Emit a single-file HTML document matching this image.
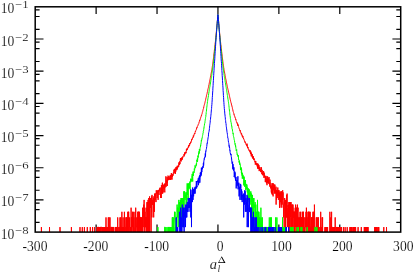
<!DOCTYPE html>
<html><head><meta charset="utf-8"><title>plot</title>
<style>
html,body{margin:0;padding:0;background:#fff;}
body{width:415px;height:274px;overflow:hidden;font-family:"Liberation Serif",serif;}
svg{display:block}
text{font-family:"Liberation Serif",serif;fill:#000}
</style></head><body>
<svg width="415" height="274" viewBox="0 0 415 274">
<rect width="415" height="274" fill="#fff"/>
<defs><filter id="g" filterUnits="userSpaceOnUse" x="0" y="0" width="415" height="274"><feOffset dx="0" dy="0"/></filter><clipPath id="c"><rect x="35.2" y="6.8" width="365.5" height="225.29999999999998"/></clipPath></defs>
<g fill="none" stroke="#000" stroke-width="1.2">
<path d="M35.2 9.92h4.4M400.7 9.92h-4.4"/>
<path d="M35.2 16.49h4.4M400.7 16.49h-4.4"/>
<path d="M35.2 29.30h4.4M400.7 29.30h-4.4"/>
<path d="M35.2 38.99h8.3M400.7 38.99h-8.3"/>
<path d="M35.2 42.10h4.4M400.7 42.10h-4.4"/>
<path d="M35.2 48.67h4.4M400.7 48.67h-4.4"/>
<path d="M35.2 61.48h4.4M400.7 61.48h-4.4"/>
<path d="M35.2 71.17h8.3M400.7 71.17h-8.3"/>
<path d="M35.2 74.29h4.4M400.7 74.29h-4.4"/>
<path d="M35.2 80.86h4.4M400.7 80.86h-4.4"/>
<path d="M35.2 93.67h4.4M400.7 93.67h-4.4"/>
<path d="M35.2 103.36h8.3M400.7 103.36h-8.3"/>
<path d="M35.2 106.48h4.4M400.7 106.48h-4.4"/>
<path d="M35.2 113.05h4.4M400.7 113.05h-4.4"/>
<path d="M35.2 125.85h4.4M400.7 125.85h-4.4"/>
<path d="M35.2 135.54h8.3M400.7 135.54h-8.3"/>
<path d="M35.2 138.66h4.4M400.7 138.66h-4.4"/>
<path d="M35.2 145.23h4.4M400.7 145.23h-4.4"/>
<path d="M35.2 158.04h4.4M400.7 158.04h-4.4"/>
<path d="M35.2 167.73h8.3M400.7 167.73h-8.3"/>
<path d="M35.2 170.85h4.4M400.7 170.85h-4.4"/>
<path d="M35.2 177.42h4.4M400.7 177.42h-4.4"/>
<path d="M35.2 190.23h4.4M400.7 190.23h-4.4"/>
<path d="M35.2 199.91h8.3M400.7 199.91h-8.3"/>
<path d="M35.2 203.03h4.4M400.7 203.03h-4.4"/>
<path d="M35.2 209.60h4.4M400.7 209.60h-4.4"/>
<path d="M35.2 222.41h4.4M400.7 222.41h-4.4"/>
<path d="M96.12 6.8v7.2M96.12 232.1v-7.6"/>
<path d="M157.03 6.8v7.2M157.03 232.1v-7.6"/>
<path d="M217.95 6.8v7.2M217.95 232.1v-7.6"/>
<path d="M278.87 6.8v7.2M278.87 232.1v-7.6"/>
<path d="M339.78 6.8v7.2M339.78 232.1v-7.6"/>
</g>
<g clip-path="url(#c)" fill="none" stroke-width="1" stroke-linejoin="round">
<polyline stroke="#f00" points="35.2,238.1 35.4,238.1 35.5,238.1 35.7,238.1 35.8,238.1 36.0,238.1 36.1,238.1 36.3,238.1 36.4,238.1 36.6,238.1 36.7,238.1 36.9,238.1 37.0,238.1 37.2,238.1 37.3,238.1 37.5,238.1 37.6,238.1 37.8,238.1 37.9,238.1 38.1,238.1 38.2,238.1 38.4,238.1 38.6,238.1 38.7,238.1 38.9,238.1 39.0,238.1 39.2,238.1 39.3,238.1 39.5,238.1 39.6,238.1 39.8,238.1 39.9,238.1 40.1,238.1 40.2,238.1 40.4,238.1 40.5,238.1 40.7,238.1 40.8,238.1 41.0,238.1 41.1,238.1 41.3,238.1 41.4,227.1 41.6,238.1 41.7,238.1 41.9,238.1 42.1,238.1 42.2,238.1 42.4,238.1 42.5,238.1 42.7,238.1 42.8,238.1 43.0,238.1 43.1,238.1 43.3,238.1 43.4,238.1 43.6,238.1 43.7,238.1 43.9,238.1 44.0,238.1 44.2,238.1 44.3,238.1 44.5,238.1 44.6,238.1 44.8,238.1 44.9,238.1 45.1,238.1 45.3,238.1 45.4,238.1 45.6,238.1 45.7,238.1 45.9,238.1 46.0,238.1 46.2,238.1 46.3,238.1 46.5,238.1 46.6,238.1 46.8,238.1 46.9,238.1 47.1,238.1 47.2,238.1 47.4,238.1 47.5,238.1 47.7,238.1 47.8,238.1 48.0,238.1 48.1,238.1 48.3,238.1 48.4,238.1 48.6,238.1 48.8,238.1 48.9,238.1 49.1,238.1 49.2,238.1 49.4,238.1 49.5,227.1 49.7,238.1 49.8,238.1 50.0,238.1 50.1,238.1 50.3,238.1 50.4,238.1 50.6,238.1 50.7,238.1 50.9,238.1 51.0,238.1 51.2,238.1 51.3,238.1 51.5,238.1 51.6,238.1 51.8,238.1 52.0,238.1 52.1,238.1 52.3,238.1 52.4,238.1 52.6,238.1 52.7,238.1 52.9,238.1 53.0,238.1 53.2,238.1 53.3,238.1 53.5,238.1 53.6,238.1 53.8,238.1 53.9,238.1 54.1,238.1 54.2,238.1 54.4,238.1 54.5,238.1 54.7,238.1 54.8,238.1 55.0,238.1 55.2,238.1 55.3,238.1 55.5,238.1 55.6,238.1 55.8,238.1 55.9,238.1 56.1,238.1 56.2,238.1 56.4,238.1 56.5,238.1 56.7,238.1 56.8,238.1 57.0,238.1 57.1,238.1 57.3,238.1 57.4,238.1 57.6,238.1 57.7,238.1 57.9,238.1 58.0,238.1 58.2,238.1 58.3,238.1 58.5,238.1 58.7,238.1 58.8,238.1 59.0,238.1 59.1,238.1 59.3,238.1 59.4,238.1 59.6,238.1 59.7,238.1 59.9,238.1 60.0,227.1 60.2,238.1 60.3,238.1 60.5,238.1 60.6,238.1 60.8,238.1 60.9,238.1 61.1,238.1 61.2,238.1 61.4,238.1 61.5,238.1 61.7,238.1 61.9,238.1 62.0,238.1 62.2,238.1 62.3,238.1 62.5,238.1 62.6,238.1 62.8,238.1 62.9,238.1 63.1,238.1 63.2,238.1 63.4,238.1 63.5,238.1 63.7,238.1 63.8,238.1 64.0,238.1 64.1,238.1 64.3,238.1 64.4,238.1 64.6,238.1 64.7,238.1 64.9,238.1 65.0,238.1 65.2,238.1 65.4,238.1 65.5,238.1 65.7,238.1 65.8,238.1 66.0,238.1 66.1,238.1 66.3,238.1 66.4,238.1 66.6,238.1 66.7,238.1 66.9,238.1 67.0,238.1 67.2,238.1 67.3,238.1 67.5,238.1 67.6,238.1 67.8,238.1 67.9,238.1 68.1,238.1 68.2,238.1 68.4,238.1 68.6,238.1 68.7,238.1 68.9,238.1 69.0,238.1 69.2,238.1 69.3,238.1 69.5,238.1 69.6,238.1 69.8,238.1 69.9,238.1 70.1,238.1 70.2,238.1 70.4,238.1 70.5,238.1 70.7,238.1 70.8,238.1 71.0,238.1 71.1,238.1 71.3,238.1 71.4,227.1 71.6,238.1 71.8,238.1 71.9,238.1 72.1,238.1 72.2,238.1 72.4,238.1 72.5,238.1 72.7,238.1 72.8,238.1 73.0,238.1 73.1,238.1 73.3,238.1 73.4,238.1 73.6,238.1 73.7,238.1 73.9,238.1 74.0,238.1 74.2,238.1 74.3,238.1 74.5,238.1 74.6,238.1 74.8,238.1 74.9,238.1 75.1,238.1 75.3,238.1 75.4,238.1 75.6,238.1 75.7,238.1 75.9,238.1 76.0,238.1 76.2,238.1 76.3,238.1 76.5,238.1 76.6,238.1 76.8,238.1 76.9,238.1 77.1,238.1 77.2,238.1 77.4,238.1 77.5,238.1 77.7,238.1 77.8,238.1 78.0,238.1 78.1,238.1 78.3,238.1 78.5,238.1 78.6,238.1 78.8,238.1 78.9,238.1 79.1,238.1 79.2,238.1 79.4,238.1 79.5,238.1 79.7,238.1 79.8,238.1 80.0,227.1 80.1,238.1 80.3,238.1 80.4,238.1 80.6,238.1 80.7,238.1 80.9,238.1 81.0,238.1 81.2,238.1 81.3,238.1 81.5,238.1 81.6,238.1 81.8,238.1 82.0,238.1 82.1,238.1 82.3,227.1 82.4,238.1 82.6,238.1 82.7,238.1 82.9,238.1 83.0,238.1 83.2,238.1 83.3,238.1 83.5,238.1 83.6,238.1 83.8,238.1 83.9,238.1 84.1,238.1 84.2,238.1 84.4,227.1 84.5,238.1 84.7,238.1 84.8,238.1 85.0,238.1 85.2,238.1 85.3,238.1 85.5,238.1 85.6,238.1 85.8,238.1 85.9,238.1 86.1,238.1 86.2,238.1 86.4,238.1 86.5,238.1 86.7,238.1 86.8,238.1 87.0,238.1 87.1,238.1 87.3,227.1 87.4,238.1 87.6,238.1 87.7,238.1 87.9,238.1 88.0,238.1 88.2,238.1 88.3,238.1 88.5,238.1 88.7,238.1 88.8,238.1 89.0,238.1 89.1,238.1 89.3,238.1 89.4,238.1 89.6,238.1 89.7,238.1 89.9,238.1 90.0,238.1 90.2,238.1 90.3,227.1 90.5,238.1 90.6,238.1 90.8,238.1 90.9,238.1 91.1,238.1 91.2,238.1 91.4,238.1 91.5,238.1 91.7,238.1 91.9,238.1 92.0,238.1 92.2,238.1 92.3,238.1 92.5,227.1 92.6,238.1 92.8,238.1 92.9,238.1 93.1,238.1 93.2,238.1 93.4,238.1 93.5,238.1 93.7,238.1 93.8,238.1 94.0,238.1 94.1,238.1 94.3,238.1 94.4,227.1 94.6,238.1 94.7,238.1 94.9,238.1 95.1,238.1 95.2,238.1 95.4,238.1 95.5,238.1 95.7,238.1 95.8,238.1 96.0,238.1 96.1,238.1 96.3,238.1 96.4,238.1 96.6,238.1 96.7,238.1 96.9,227.1 97.0,227.1 97.2,227.1 97.3,227.1 97.5,238.1 97.6,238.1 97.8,227.1 97.9,238.1 98.1,227.1 98.2,227.1 98.4,227.1 98.6,238.1 98.7,227.1 98.9,227.1 99.0,238.1 99.2,238.1 99.3,238.1 99.5,227.1 99.6,238.1 99.8,238.1 99.9,238.1 100.1,227.1 100.2,238.1 100.4,227.1 100.5,227.1 100.7,227.1 100.8,227.1 101.0,238.1 101.1,227.1 101.3,227.1 101.4,227.1 101.6,227.1 101.8,238.1 101.9,238.1 102.1,238.1 102.2,238.1 102.4,227.1 102.5,238.1 102.7,238.1 102.8,227.1 103.0,238.1 103.1,238.1 103.3,238.1 103.4,227.1 103.6,238.1 103.7,238.1 103.9,238.1 104.0,238.1 104.2,238.1 104.3,238.1 104.5,227.1 104.6,238.1 104.8,238.1 104.9,238.1 105.1,238.1 105.3,238.1 105.4,227.1 105.6,227.1 105.7,238.1 105.9,227.1 106.0,217.4 106.2,238.1 106.3,227.1 106.5,227.1 106.6,227.1 106.8,238.1 106.9,238.1 107.1,238.1 107.2,238.1 107.4,238.1 107.5,227.1 107.7,238.1 107.8,238.1 108.0,227.1 108.1,238.1 108.3,217.4 108.5,238.1 108.6,238.1 108.8,238.1 108.9,238.1 109.1,217.4 109.2,238.1 109.4,227.1 109.5,238.1 109.7,227.1 109.8,238.1 110.0,217.4 110.1,238.1 110.3,238.1 110.4,238.1 110.6,238.1 110.7,238.1 110.9,227.1 111.0,227.1 111.2,227.1 111.3,238.1 111.5,227.1 111.7,227.1 111.8,238.1 112.0,227.1 112.1,238.1 112.3,227.1 112.4,227.1 112.6,238.1 112.7,238.1 112.9,227.1 113.0,227.1 113.2,238.1 113.3,227.1 113.5,227.1 113.6,238.1 113.8,238.1 113.9,238.1 114.1,238.1 114.2,238.1 114.4,238.1 114.5,238.1 114.7,238.1 114.8,238.1 115.0,238.1 115.2,227.1 115.3,238.1 115.5,227.1 115.6,227.1 115.8,238.1 115.9,238.1 116.1,238.1 116.2,227.1 116.4,227.1 116.5,238.1 116.7,238.1 116.8,227.1 117.0,238.1 117.1,227.1 117.3,238.1 117.4,238.1 117.6,238.1 117.7,217.4 117.9,238.1 118.0,238.1 118.2,238.1 118.4,238.1 118.5,238.1 118.7,238.1 118.8,227.1 119.0,238.1 119.1,238.1 119.3,227.1 119.4,238.1 119.6,227.1 119.7,238.1 119.9,227.1 120.0,217.4 120.2,238.1 120.3,238.1 120.5,227.1 120.6,227.1 120.8,217.4 120.9,238.1 121.1,238.1 121.2,227.1 121.4,227.1 121.5,238.1 121.7,227.1 121.9,211.8 122.0,238.1 122.2,238.1 122.3,238.1 122.5,227.1 122.6,238.1 122.8,238.1 122.9,238.1 123.1,217.4 123.2,238.1 123.4,227.1 123.5,238.1 123.7,227.1 123.8,227.1 124.0,238.1 124.1,227.1 124.3,227.1 124.4,211.8 124.6,227.1 124.7,238.1 124.9,227.1 125.1,227.1 125.2,227.1 125.4,238.1 125.5,238.1 125.7,238.1 125.8,217.4 126.0,217.4 126.1,238.1 126.3,238.1 126.4,227.1 126.6,217.4 126.7,238.1 126.9,227.1 127.0,238.1 127.2,217.4 127.3,238.1 127.5,238.1 127.6,227.1 127.8,211.8 127.9,217.4 128.1,217.4 128.3,238.1 128.4,211.8 128.6,217.4 128.7,211.8 128.9,238.1 129.0,227.1 129.2,227.1 129.3,227.1 129.5,227.1 129.6,217.4 129.8,238.1 129.9,238.1 130.1,227.1 130.2,227.1 130.4,238.1 130.5,227.1 130.7,238.1 130.8,227.1 131.0,238.1 131.1,207.7 131.3,238.1 131.4,217.4 131.6,227.1 131.8,238.1 131.9,217.4 132.1,227.1 132.2,227.1 132.4,227.1 132.5,211.8 132.7,217.4 132.8,227.1 133.0,238.1 133.1,227.1 133.3,211.8 133.4,238.1 133.6,238.1 133.7,227.1 133.9,217.4 134.0,217.4 134.2,227.1 134.3,227.1 134.5,238.1 134.6,238.1 134.8,238.1 135.0,211.8 135.1,238.1 135.3,238.1 135.4,227.1 135.6,227.1 135.7,207.7 135.9,227.1 136.0,238.1 136.2,227.1 136.3,227.1 136.5,227.1 136.6,227.1 136.8,217.4 136.9,227.1 137.1,227.1 137.2,238.1 137.4,227.1 137.5,217.4 137.7,238.1 137.8,211.8 138.0,227.1 138.1,211.8 138.3,227.1 138.5,211.8 138.6,238.1 138.8,227.1 138.9,211.8 139.1,227.1 139.2,238.1 139.4,217.4 139.5,211.8 139.7,217.4 139.8,217.4 140.0,238.1 140.1,217.4 140.3,227.1 140.4,217.4 140.6,238.1 140.7,217.4 140.9,217.4 141.0,217.4 141.2,238.1 141.3,238.1 141.5,217.4 141.7,227.1 141.8,238.1 142.0,227.1 142.1,238.1 142.3,217.4 142.4,227.1 142.6,227.1 142.7,207.7 142.9,238.1 143.0,211.8 143.2,227.1 143.3,217.4 143.5,207.7 143.6,217.4 143.8,204.6 143.9,211.8 144.1,199.9 144.2,207.7 144.4,211.8 144.5,207.7 144.7,238.1 144.8,217.4 145.0,211.8 145.2,227.1 145.3,217.4 145.5,227.1 145.6,217.4 145.8,217.4 145.9,227.1 146.1,207.7 146.2,238.1 146.4,217.4 146.5,238.1 146.7,217.4 146.8,238.1 147.0,202.1 147.1,211.8 147.3,204.6 147.4,202.1 147.6,238.1 147.7,207.7 147.9,217.4 148.0,199.9 148.2,202.1 148.4,238.1 148.5,238.1 148.7,207.7 148.8,198.0 149.0,217.4 149.1,238.1 149.3,202.1 149.4,238.1 149.6,196.4 149.7,238.1 149.9,202.1 150.0,207.7 150.2,204.6 150.3,207.7 150.5,207.7 150.6,198.0 150.8,202.1 150.9,198.0 151.1,238.1 151.2,211.8 151.4,207.7 151.6,211.8 151.7,196.4 151.9,217.4 152.0,194.9 152.2,204.6 152.3,199.9 152.5,202.1 152.6,204.6 152.8,199.9 152.9,202.1 153.1,204.6 153.2,202.1 153.4,202.1 153.5,198.0 153.7,217.4 153.8,196.4 154.0,196.4 154.1,207.7 154.3,199.9 154.4,211.8 154.6,193.6 154.7,202.1 154.9,199.9 155.1,198.0 155.2,198.0 155.4,193.6 155.5,199.9 155.7,193.6 155.8,196.4 156.0,202.1 156.1,196.4 156.3,190.2 156.4,193.6 156.6,193.6 156.7,193.6 156.9,192.4 157.0,191.3 157.2,198.0 157.3,194.9 157.5,192.4 157.6,193.6 157.8,190.2 157.9,192.4 158.1,199.9 158.3,192.4 158.4,190.2 158.6,191.3 158.7,190.2 158.9,193.6 159.0,194.9 159.2,190.2 159.3,189.3 159.5,190.2 159.6,188.4 159.8,188.4 159.9,191.3 160.1,190.2 160.2,187.5 160.4,194.9 160.5,193.6 160.7,198.0 160.8,192.4 161.0,191.3 161.1,194.9 161.3,198.0 161.4,185.2 161.6,187.5 161.8,191.3 161.9,188.4 162.1,193.6 162.2,183.9 162.4,182.7 162.5,183.9 162.7,193.6 162.8,192.4 163.0,187.5 163.1,192.4 163.3,188.4 163.4,186.0 163.6,185.2 163.7,186.0 163.9,188.4 164.0,184.6 164.2,188.4 164.3,183.9 164.5,186.7 164.6,190.2 164.8,192.4 165.0,183.3 165.1,187.5 165.3,184.6 165.4,185.2 165.6,185.2 165.7,183.9 165.9,176.3 166.0,186.7 166.2,186.7 166.3,181.0 166.5,180.5 166.6,183.3 166.8,182.1 166.9,181.6 167.1,177.0 167.2,186.0 167.4,183.3 167.5,181.0 167.7,178.7 167.8,180.5 168.0,175.6 168.2,176.3 168.3,179.6 168.5,180.0 168.6,179.1 168.8,176.3 168.9,177.8 169.1,180.0 169.2,179.6 169.4,178.7 169.5,178.7 169.7,179.1 169.8,177.0 170.0,176.3 170.1,179.6 170.3,174.9 170.4,180.0 170.6,175.9 170.7,176.3 170.9,179.6 171.0,177.8 171.2,179.1 171.3,173.0 171.5,173.9 171.7,176.3 171.8,174.9 172.0,179.6 172.1,174.2 172.3,175.2 172.4,177.0 172.6,175.2 172.7,175.6 172.9,174.2 173.0,175.6 173.2,173.0 173.3,172.7 173.5,173.3 173.6,173.6 173.8,171.9 173.9,169.7 174.1,171.1 174.2,172.7 174.4,172.2 174.5,168.8 174.7,171.6 174.9,169.2 175.0,173.3 175.2,170.8 175.3,173.9 175.5,168.6 175.6,169.7 175.8,171.6 175.9,171.4 176.1,167.0 176.2,169.7 176.4,166.8 176.5,169.4 176.7,168.6 176.8,170.1 177.0,168.8 177.1,169.2 177.3,165.7 177.4,168.6 177.6,167.0 177.7,167.7 177.9,166.0 178.0,166.4 178.2,167.1 178.4,166.2 178.5,165.3 178.7,166.6 178.8,166.4 179.0,162.3 179.1,164.9 179.3,162.9 179.4,164.9 179.6,161.4 179.7,161.7 179.9,163.8 180.0,164.1 180.2,161.5 180.3,159.4 180.5,158.0 180.6,160.8 180.8,160.3 180.9,160.0 181.1,160.7 181.2,161.4 181.4,160.4 181.6,157.5 181.7,159.0 181.9,160.0 182.0,159.3 182.2,159.5 182.3,159.6 182.5,159.1 182.6,157.0 182.8,157.5 182.9,156.1 183.1,156.1 183.2,156.5 183.4,156.3 183.5,155.7 183.7,155.5 183.8,155.2 184.0,154.2 184.1,155.2 184.3,156.3 184.4,155.5 184.6,152.8 184.8,154.5 184.9,154.4 185.1,152.0 185.2,152.7 185.4,153.0 185.5,151.8 185.7,153.4 185.8,152.4 186.0,153.1 186.1,153.0 186.3,151.7 186.4,149.2 186.6,150.8 186.7,150.2 186.9,149.4 187.0,148.5 187.2,150.0 187.3,148.5 187.5,148.9 187.6,148.4 187.8,148.5 187.9,147.7 188.1,147.1 188.3,147.4 188.4,146.3 188.6,147.3 188.7,145.2 188.9,145.5 189.0,144.9 189.2,146.1 189.3,146.2 189.5,146.0 189.6,145.3 189.8,143.2 189.9,144.2 190.1,143.2 190.2,143.2 190.4,143.3 190.5,143.2 190.7,141.9 190.8,142.7 191.0,142.2 191.1,141.4 191.3,141.6 191.5,141.1 191.6,139.6 191.8,139.2 191.9,140.0 192.1,138.9 192.2,138.7 192.4,138.9 192.5,137.9 192.7,137.6 192.8,137.2 193.0,137.5 193.1,137.7 193.3,135.7 193.4,135.9 193.6,136.6 193.7,135.3 193.9,135.5 194.0,135.4 194.2,133.9 194.3,133.6 194.5,133.6 194.6,133.2 194.8,134.0 195.0,132.8 195.1,132.5 195.3,131.5 195.4,132.0 195.6,131.3 195.7,130.8 195.9,130.2 196.0,129.9 196.2,129.7 196.3,129.7 196.5,128.4 196.6,128.8 196.8,127.5 196.9,127.5 197.1,127.9 197.2,127.2 197.4,126.5 197.5,126.2 197.7,126.0 197.8,126.0 198.0,125.2 198.2,124.4 198.3,124.5 198.5,124.3 198.6,123.9 198.8,123.5 198.9,122.6 199.1,122.6 199.2,122.0 199.4,121.3 199.5,121.2 199.7,120.1 199.8,120.5 200.0,119.6 200.1,119.1 200.3,119.2 200.4,118.6 200.6,117.7 200.7,117.4 200.9,117.4 201.0,116.9 201.2,116.3 201.4,115.5 201.5,115.8 201.7,114.9 201.8,114.3 202.0,113.9 202.1,113.6 202.3,112.5 202.4,112.4 202.6,112.0 202.7,111.5 202.9,110.5 203.0,109.8 203.2,109.3 203.3,108.8 203.5,108.6 203.6,108.1 203.8,106.9 203.9,106.4 204.1,105.7 204.2,105.2 204.4,104.6 204.5,104.0 204.7,103.6 204.9,102.9 205.0,102.2 205.2,101.4 205.3,100.8 205.5,100.4 205.6,99.7 205.8,98.9 205.9,98.1 206.1,97.6 206.2,97.1 206.4,96.3 206.5,95.4 206.7,94.8 206.8,94.4 207.0,93.9 207.1,93.3 207.3,92.2 207.4,91.7 207.6,91.3 207.7,90.3 207.9,89.4 208.1,88.7 208.2,88.3 208.4,87.5 208.5,86.8 208.7,86.2 208.8,85.2 209.0,84.7 209.1,83.9 209.3,83.1 209.4,82.4 209.6,81.6 209.7,81.0 209.9,80.2 210.0,79.4 210.2,78.6 210.3,77.7 210.5,77.1 210.6,76.2 210.8,75.7 210.9,74.6 211.1,73.8 211.2,73.1 211.4,72.2 211.6,71.3 211.7,70.4 211.9,69.5 212.0,68.6 212.2,67.5 212.3,66.6 212.5,65.5 212.6,64.5 212.8,63.4 212.9,62.3 213.1,61.2 213.2,60.1 213.4,58.9 213.5,57.6 213.7,56.5 213.8,55.2 214.0,53.9 214.1,52.6 214.3,51.3 214.4,50.0 214.6,48.7 214.8,47.3 214.9,45.9 215.1,44.6 215.2,43.2 215.4,41.8 215.5,40.4 215.7,38.9 215.8,37.4 216.0,36.0 216.1,34.4 216.3,32.9 216.4,31.3 216.6,29.7 216.7,28.1 216.9,26.5 217.0,24.8 217.2,23.2 217.3,21.5 217.5,19.7 217.6,18.0 217.8,16.3 217.9,14.5 218.1,16.3 218.3,18.0 218.4,19.7 218.6,21.5 218.7,23.2 218.9,24.8 219.0,26.5 219.2,28.1 219.3,29.7 219.5,31.3 219.6,32.9 219.8,34.5 219.9,35.9 220.1,37.5 220.2,38.9 220.4,40.3 220.5,41.8 220.7,43.2 220.8,44.5 221.0,45.9 221.1,47.3 221.3,48.7 221.5,50.0 221.6,51.3 221.8,52.6 221.9,53.9 222.1,55.2 222.2,56.5 222.4,57.7 222.5,58.9 222.7,60.0 222.8,61.2 223.0,62.4 223.1,63.5 223.3,64.5 223.4,65.5 223.6,66.6 223.7,67.6 223.9,68.5 224.0,69.5 224.2,70.4 224.3,71.2 224.5,72.1 224.7,73.1 224.8,73.8 225.0,74.6 225.1,75.5 225.3,76.3 225.4,77.2 225.6,77.8 225.7,78.7 225.9,79.4 226.0,80.1 226.2,80.8 226.3,81.8 226.5,82.6 226.6,83.2 226.8,83.9 226.9,84.5 227.1,85.4 227.2,86.2 227.4,86.7 227.5,87.5 227.7,88.2 227.8,88.8 228.0,89.7 228.2,90.3 228.3,91.0 228.5,91.8 228.6,92.3 228.8,92.9 228.9,93.5 229.1,94.3 229.2,95.1 229.4,95.7 229.5,96.3 229.7,96.8 229.8,97.6 230.0,98.3 230.1,99.0 230.3,99.7 230.4,100.1 230.6,100.9 230.7,101.5 230.9,102.1 231.0,102.7 231.2,103.1 231.4,104.1 231.5,105.0 231.7,105.2 231.8,106.0 232.0,106.0 232.1,106.8 232.3,107.4 232.4,108.3 232.6,109.3 232.7,109.3 232.9,110.0 233.0,111.0 233.2,111.6 233.3,112.1 233.5,112.5 233.6,112.8 233.8,113.2 233.9,114.3 234.1,114.8 234.2,114.5 234.4,115.8 234.5,115.9 234.7,116.2 234.9,117.0 235.0,117.0 235.2,118.0 235.3,118.0 235.5,118.6 235.6,119.3 235.8,120.0 235.9,119.5 236.1,120.5 236.2,120.9 236.4,121.4 236.5,121.8 236.7,122.0 236.8,122.8 237.0,122.5 237.1,123.6 237.3,123.5 237.4,124.0 237.6,123.6 237.7,125.4 237.9,124.3 238.1,125.9 238.2,125.3 238.4,126.0 238.5,126.5 238.7,126.9 238.8,127.7 239.0,128.0 239.1,128.7 239.3,128.7 239.4,129.1 239.6,129.7 239.7,130.4 239.9,130.4 240.0,130.6 240.2,130.0 240.3,132.2 240.5,131.8 240.6,131.8 240.8,132.7 240.9,133.0 241.1,133.0 241.3,134.4 241.4,133.4 241.6,133.9 241.7,133.8 241.9,135.1 242.0,136.3 242.2,136.2 242.3,136.3 242.5,135.6 242.6,136.1 242.8,137.4 242.9,136.3 243.1,137.3 243.2,138.0 243.4,138.3 243.5,138.0 243.7,139.2 243.8,139.2 244.0,139.4 244.1,140.2 244.3,140.1 244.4,140.4 244.6,141.2 244.8,141.8 244.9,141.3 245.1,142.9 245.2,142.5 245.4,142.6 245.5,142.4 245.7,143.2 245.8,144.2 246.0,144.6 246.1,144.5 246.3,144.6 246.4,144.0 246.6,144.6 246.7,144.5 246.9,146.2 247.0,143.6 247.2,144.7 247.3,146.1 247.5,147.6 247.6,146.7 247.8,148.2 248.0,147.2 248.1,148.3 248.3,148.3 248.4,149.3 248.6,149.4 248.7,149.4 248.9,149.1 249.0,150.7 249.2,150.4 249.3,150.2 249.5,150.7 249.6,151.1 249.8,151.3 249.9,152.1 250.1,150.1 250.2,151.8 250.4,153.3 250.5,152.8 250.7,154.1 250.8,151.5 251.0,152.8 251.1,154.4 251.3,156.3 251.5,152.8 251.6,154.1 251.8,154.5 251.9,155.3 252.1,156.4 252.2,154.1 252.4,157.9 252.5,157.0 252.7,157.9 252.8,156.0 253.0,158.9 253.1,156.3 253.3,156.4 253.4,156.8 253.6,158.2 253.7,159.5 253.9,158.1 254.0,160.2 254.2,158.9 254.3,159.8 254.5,159.6 254.7,160.2 254.8,160.9 255.0,162.2 255.1,161.2 255.3,164.7 255.4,164.1 255.6,162.6 255.7,161.0 255.9,161.8 256.0,162.6 256.2,163.0 256.3,163.5 256.5,165.0 256.6,163.2 256.8,164.5 256.9,165.3 257.1,165.3 257.2,166.4 257.4,163.8 257.5,168.6 257.7,163.5 257.9,165.7 258.0,163.9 258.2,166.0 258.3,166.0 258.5,168.8 258.6,164.9 258.8,167.3 258.9,165.3 259.1,168.6 259.2,171.1 259.4,168.8 259.5,169.4 259.7,167.0 259.8,169.7 260.0,167.3 260.1,170.4 260.3,169.7 260.4,169.4 260.6,171.9 260.7,169.7 260.9,169.4 261.0,172.2 261.2,169.4 261.4,171.4 261.5,167.3 261.7,172.7 261.8,174.2 262.0,171.9 262.1,169.9 262.3,170.4 262.4,171.1 262.6,175.2 262.7,173.3 262.9,174.5 263.0,172.4 263.2,175.2 263.3,173.3 263.5,173.9 263.6,171.1 263.8,174.2 263.9,177.8 264.1,176.6 264.2,172.7 264.4,177.4 264.6,174.9 264.7,174.9 264.9,176.3 265.0,176.6 265.2,178.2 265.3,182.1 265.5,176.3 265.6,182.1 265.8,177.8 265.9,179.6 266.1,175.9 266.2,177.4 266.4,180.0 266.5,183.3 266.7,180.0 266.8,178.7 267.0,185.2 267.1,179.1 267.3,177.0 267.4,182.7 267.6,176.3 267.7,180.0 267.9,181.6 268.1,177.8 268.2,183.3 268.4,182.7 268.5,183.3 268.7,178.7 268.8,183.3 269.0,177.0 269.1,181.0 269.3,183.9 269.4,183.9 269.6,184.6 269.7,182.7 269.9,186.7 270.0,179.6 270.2,181.6 270.3,186.0 270.5,187.5 270.6,188.4 270.8,185.2 270.9,185.2 271.1,188.4 271.3,192.4 271.4,191.3 271.6,186.0 271.7,193.6 271.9,183.3 272.0,184.6 272.2,191.3 272.3,194.9 272.5,190.2 272.6,183.3 272.8,183.9 272.9,185.2 273.1,196.4 273.2,183.3 273.4,188.4 273.5,185.2 273.7,190.2 273.8,184.6 274.0,190.2 274.1,184.6 274.3,185.2 274.5,189.3 274.6,193.6 274.8,191.3 274.9,184.6 275.1,192.4 275.2,188.4 275.4,188.4 275.5,190.2 275.7,193.6 275.8,192.4 276.0,186.7 276.1,204.6 276.3,190.2 276.4,192.4 276.6,199.9 276.7,193.6 276.9,190.2 277.0,196.4 277.2,198.0 277.3,198.0 277.5,191.3 277.6,194.9 277.8,187.5 278.0,196.4 278.1,192.4 278.3,193.6 278.4,190.2 278.6,193.6 278.7,199.9 278.9,196.4 279.0,190.2 279.2,194.9 279.3,192.4 279.5,207.7 279.6,198.0 279.8,194.9 279.9,207.7 280.1,194.9 280.2,191.3 280.4,202.1 280.5,194.9 280.7,202.1 280.8,192.4 281.0,194.9 281.2,199.9 281.3,204.6 281.5,191.3 281.6,202.1 281.8,207.7 281.9,199.9 282.1,198.0 282.2,204.6 282.4,193.6 282.5,196.4 282.7,190.2 282.8,199.9 283.0,193.6 283.1,192.4 283.3,202.1 283.4,202.1 283.6,202.1 283.7,217.4 283.9,204.6 284.0,207.7 284.2,227.1 284.3,204.6 284.5,204.6 284.7,198.0 284.8,204.6 285.0,202.1 285.1,207.7 285.3,217.4 285.4,238.1 285.6,199.9 285.7,238.1 285.9,211.8 286.0,217.4 286.2,211.8 286.3,204.6 286.5,217.4 286.6,194.9 286.8,211.8 286.9,204.6 287.1,193.6 287.2,204.6 287.4,207.7 287.5,227.1 287.7,217.4 287.9,211.8 288.0,217.4 288.2,204.6 288.3,217.4 288.5,207.7 288.6,238.1 288.8,202.1 288.9,204.6 289.1,227.1 289.2,227.1 289.4,204.6 289.5,202.1 289.7,217.4 289.8,238.1 290.0,217.4 290.1,238.1 290.3,217.4 290.4,217.4 290.6,202.1 290.7,217.4 290.9,211.8 291.0,202.1 291.2,217.4 291.4,217.4 291.5,238.1 291.7,217.4 291.8,204.6 292.0,227.1 292.1,217.4 292.3,227.1 292.4,204.6 292.6,227.1 292.7,207.7 292.9,227.1 293.0,204.6 293.2,217.4 293.3,211.8 293.5,217.4 293.6,211.8 293.8,217.4 293.9,238.1 294.1,211.8 294.2,211.8 294.4,217.4 294.6,211.8 294.7,238.1 294.9,211.8 295.0,238.1 295.2,207.7 295.3,227.1 295.5,207.7 295.6,204.6 295.8,207.7 295.9,217.4 296.1,207.7 296.2,217.4 296.4,211.8 296.5,238.1 296.7,207.7 296.8,217.4 297.0,238.1 297.1,211.8 297.3,217.4 297.4,204.6 297.6,238.1 297.8,211.8 297.9,211.8 298.1,207.7 298.2,217.4 298.4,217.4 298.5,217.4 298.7,227.1 298.8,217.4 299.0,217.4 299.1,238.1 299.3,238.1 299.4,227.1 299.6,227.1 299.7,217.4 299.9,238.1 300.0,211.8 300.2,238.1 300.3,238.1 300.5,217.4 300.6,217.4 300.8,211.8 300.9,238.1 301.1,217.4 301.3,227.1 301.4,217.4 301.6,217.4 301.7,227.1 301.9,238.1 302.0,238.1 302.2,217.4 302.3,227.1 302.5,238.1 302.6,211.8 302.8,238.1 302.9,238.1 303.1,211.8 303.2,227.1 303.4,211.8 303.5,227.1 303.7,217.4 303.8,238.1 304.0,217.4 304.1,238.1 304.3,238.1 304.5,227.1 304.6,238.1 304.8,238.1 304.9,238.1 305.1,227.1 305.2,217.4 305.4,227.1 305.5,227.1 305.7,227.1 305.8,227.1 306.0,211.8 306.1,227.1 306.3,238.1 306.4,207.7 306.6,217.4 306.7,238.1 306.9,238.1 307.0,217.4 307.2,217.4 307.3,227.1 307.5,238.1 307.6,238.1 307.8,227.1 308.0,211.8 308.1,227.1 308.3,238.1 308.4,211.8 308.6,238.1 308.7,211.8 308.9,227.1 309.0,238.1 309.2,227.1 309.3,227.1 309.5,211.8 309.6,227.1 309.8,238.1 309.9,238.1 310.1,227.1 310.2,211.8 310.4,227.1 310.5,238.1 310.7,227.1 310.8,227.1 311.0,227.1 311.2,238.1 311.3,238.1 311.5,217.4 311.6,238.1 311.8,227.1 311.9,227.1 312.1,217.4 312.2,217.4 312.4,227.1 312.5,217.4 312.7,238.1 312.8,217.4 313.0,211.8 313.1,217.4 313.3,238.1 313.4,211.8 313.6,227.1 313.7,238.1 313.9,227.1 314.0,227.1 314.2,238.1 314.4,204.6 314.5,207.7 314.7,227.1 314.8,227.1 315.0,238.1 315.1,238.1 315.3,227.1 315.4,227.1 315.6,227.1 315.7,238.1 315.9,238.1 316.0,227.1 316.2,227.1 316.3,217.4 316.5,238.1 316.6,238.1 316.8,227.1 316.9,217.4 317.1,238.1 317.2,238.1 317.4,227.1 317.5,238.1 317.7,227.1 317.9,217.4 318.0,238.1 318.2,238.1 318.3,217.4 318.5,227.1 318.6,238.1 318.8,238.1 318.9,238.1 319.1,227.1 319.2,227.1 319.4,238.1 319.5,238.1 319.7,238.1 319.8,238.1 320.0,238.1 320.1,238.1 320.3,227.1 320.4,238.1 320.6,238.1 320.7,211.8 320.9,238.1 321.1,227.1 321.2,238.1 321.4,227.1 321.5,227.1 321.7,238.1 321.8,238.1 322.0,238.1 322.1,217.4 322.3,238.1 322.4,227.1 322.6,217.4 322.7,238.1 322.9,238.1 323.0,238.1 323.2,238.1 323.3,238.1 323.5,238.1 323.6,238.1 323.8,238.1 323.9,238.1 324.1,238.1 324.2,238.1 324.4,238.1 324.6,238.1 324.7,238.1 324.9,227.1 325.0,238.1 325.2,238.1 325.3,238.1 325.5,227.1 325.6,238.1 325.8,227.1 325.9,238.1 326.1,238.1 326.2,238.1 326.4,227.1 326.5,238.1 326.7,238.1 326.8,238.1 327.0,238.1 327.1,227.1 327.3,238.1 327.4,238.1 327.6,227.1 327.8,238.1 327.9,238.1 328.1,238.1 328.2,238.1 328.4,238.1 328.5,238.1 328.7,238.1 328.8,238.1 329.0,238.1 329.1,238.1 329.3,238.1 329.4,238.1 329.6,238.1 329.7,238.1 329.9,211.8 330.0,238.1 330.2,238.1 330.3,238.1 330.5,227.1 330.6,238.1 330.8,217.4 331.0,227.1 331.1,227.1 331.3,238.1 331.4,238.1 331.6,211.8 331.7,238.1 331.9,238.1 332.0,238.1 332.2,238.1 332.3,238.1 332.5,227.1 332.6,227.1 332.8,227.1 332.9,238.1 333.1,238.1 333.2,238.1 333.4,227.1 333.5,238.1 333.7,238.1 333.8,238.1 334.0,238.1 334.1,227.1 334.3,238.1 334.5,238.1 334.6,227.1 334.8,238.1 334.9,238.1 335.1,227.1 335.2,217.4 335.4,238.1 335.5,238.1 335.7,238.1 335.8,238.1 336.0,238.1 336.1,227.1 336.3,227.1 336.4,238.1 336.6,227.1 336.7,238.1 336.9,238.1 337.0,238.1 337.2,227.1 337.3,227.1 337.5,238.1 337.7,227.1 337.8,238.1 338.0,227.1 338.1,238.1 338.3,238.1 338.4,238.1 338.6,238.1 338.7,227.1 338.9,238.1 339.0,238.1 339.2,238.1 339.3,238.1 339.5,238.1 339.6,227.1 339.8,238.1 339.9,238.1 340.1,238.1 340.2,227.1 340.4,238.1 340.5,238.1 340.7,238.1 340.8,238.1 341.0,238.1 341.2,238.1 341.3,238.1 341.5,227.1 341.6,238.1 341.8,238.1 341.9,238.1 342.1,238.1 342.2,238.1 342.4,238.1 342.5,238.1 342.7,238.1 342.8,238.1 343.0,238.1 343.1,238.1 343.3,238.1 343.4,227.1 343.6,238.1 343.7,238.1 343.9,238.1 344.0,238.1 344.2,238.1 344.4,238.1 344.5,238.1 344.7,238.1 344.8,238.1 345.0,238.1 345.1,227.1 345.3,238.1 345.4,238.1 345.6,238.1 345.7,238.1 345.9,238.1 346.0,238.1 346.2,238.1 346.3,238.1 346.5,238.1 346.6,238.1 346.8,238.1 346.9,238.1 347.1,238.1 347.2,227.1 347.4,238.1 347.6,238.1 347.7,238.1 347.9,238.1 348.0,238.1 348.2,238.1 348.3,238.1 348.5,238.1 348.6,238.1 348.8,238.1 348.9,238.1 349.1,238.1 349.2,238.1 349.4,238.1 349.5,238.1 349.7,238.1 349.8,238.1 350.0,227.1 350.1,238.1 350.3,227.1 350.4,238.1 350.6,227.1 350.7,238.1 350.9,227.1 351.1,238.1 351.2,227.1 351.4,238.1 351.5,227.1 351.7,238.1 351.8,227.1 352.0,238.1 352.1,227.1 352.3,238.1 352.4,238.1 352.6,238.1 352.7,238.1 352.9,238.1 353.0,238.1 353.2,238.1 353.3,238.1 353.5,227.1 353.6,238.1 353.8,227.1 353.9,238.1 354.1,227.1 354.3,238.1 354.4,227.1 354.6,238.1 354.7,227.1 354.9,238.1 355.0,227.1 355.2,238.1 355.3,227.1 355.5,238.1 355.6,227.1 355.8,238.1 355.9,238.1 356.1,238.1 356.2,238.1 356.4,238.1 356.5,238.1 356.7,238.1 356.8,238.1 357.0,238.1 357.1,238.1 357.3,238.1 357.4,238.1 357.6,238.1 357.8,238.1 357.9,238.1 358.1,227.1 358.2,238.1 358.4,238.1 358.5,238.1 358.7,238.1 358.8,238.1 359.0,238.1 359.1,238.1 359.3,238.1 359.4,238.1 359.6,238.1 359.7,238.1 359.9,238.1 360.0,238.1 360.2,238.1 360.3,238.1 360.5,238.1 360.6,238.1 360.8,238.1 361.0,238.1 361.1,238.1 361.3,227.1 361.4,238.1 361.6,238.1 361.7,238.1 361.9,238.1 362.0,238.1 362.2,238.1 362.3,238.1 362.5,238.1 362.6,238.1 362.8,238.1 362.9,238.1 363.1,238.1 363.2,238.1 363.4,238.1 363.5,238.1 363.7,238.1 363.8,238.1 364.0,238.1 364.1,238.1 364.3,227.1 364.5,238.1 364.6,227.1 364.8,238.1 364.9,227.1 365.1,238.1 365.2,227.1 365.4,238.1 365.5,227.1 365.7,238.1 365.8,227.1 366.0,238.1 366.1,227.1 366.3,238.1 366.4,227.1 366.6,238.1 366.7,227.1 366.9,238.1 367.0,227.1 367.2,238.1 367.3,227.1 367.5,238.1 367.7,227.1 367.8,238.1 368.0,227.1 368.1,238.1 368.3,238.1 368.4,238.1 368.6,238.1 368.7,238.1 368.9,238.1 369.0,238.1 369.2,238.1 369.3,238.1 369.5,238.1 369.6,238.1 369.8,238.1 369.9,238.1 370.1,238.1 370.2,238.1 370.4,238.1 370.5,238.1 370.7,238.1 370.9,238.1 371.0,238.1 371.2,238.1 371.3,238.1 371.5,238.1 371.6,238.1 371.8,238.1 371.9,238.1 372.1,238.1 372.2,238.1 372.4,238.1 372.5,238.1 372.7,238.1 372.8,238.1 373.0,238.1 373.1,238.1 373.3,238.1 373.4,238.1 373.6,238.1 373.7,238.1 373.9,238.1 374.0,238.1 374.2,238.1 374.4,238.1 374.5,238.1 374.7,238.1 374.8,227.1 375.0,238.1 375.1,227.1 375.3,238.1 375.4,227.1 375.6,238.1 375.7,227.1 375.9,238.1 376.0,227.1 376.2,238.1 376.3,227.1 376.5,238.1 376.6,227.1 376.8,238.1 376.9,238.1 377.1,238.1 377.2,238.1 377.4,238.1 377.6,238.1 377.7,238.1 377.9,227.1 378.0,238.1 378.2,227.1 378.3,238.1 378.5,227.1 378.6,238.1 378.8,227.1 378.9,238.1 379.1,238.1 379.2,238.1 379.4,238.1 379.5,238.1 379.7,238.1 379.8,238.1 380.0,238.1 380.1,238.1 380.3,238.1 380.4,238.1 380.6,238.1 380.7,238.1 380.9,238.1 381.1,238.1 381.2,238.1 381.4,238.1 381.5,238.1 381.7,238.1 381.8,238.1 382.0,238.1 382.1,238.1 382.3,238.1 382.4,238.1 382.6,238.1 382.7,238.1 382.9,238.1 383.0,238.1 383.2,238.1 383.3,238.1 383.5,238.1 383.6,238.1 383.8,227.1 383.9,238.1 384.1,238.1 384.3,238.1 384.4,238.1 384.6,238.1 384.7,238.1 384.9,238.1 385.0,238.1 385.2,238.1 385.3,238.1 385.5,238.1 385.6,238.1 385.8,238.1 385.9,238.1 386.1,238.1 386.2,238.1 386.4,238.1 386.5,227.1 386.7,238.1 386.8,238.1 387.0,238.1 387.1,238.1 387.3,238.1 387.5,238.1 387.6,238.1 387.8,238.1 387.9,238.1 388.1,238.1 388.2,238.1 388.4,238.1 388.5,238.1 388.7,238.1 388.8,238.1 389.0,238.1 389.1,238.1 389.3,238.1 389.4,238.1 389.6,238.1 389.7,238.1 389.9,238.1 390.0,238.1 390.2,238.1 390.3,238.1 390.5,238.1 390.6,238.1 390.8,238.1 391.0,238.1 391.1,238.1 391.3,238.1 391.4,238.1 391.6,238.1 391.7,238.1 391.9,238.1 392.0,238.1 392.2,238.1 392.3,238.1 392.5,238.1 392.6,238.1 392.8,238.1 392.9,238.1 393.1,238.1 393.2,238.1 393.4,238.1 393.5,238.1 393.7,238.1 393.8,238.1 394.0,238.1 394.2,238.1 394.3,238.1 394.5,238.1 394.6,238.1 394.8,238.1 394.9,238.1 395.1,238.1 395.2,238.1 395.4,238.1 395.5,238.1 395.7,238.1 395.8,238.1 396.0,238.1 396.1,238.1 396.3,238.1 396.4,238.1 396.6,238.1 396.7,238.1 396.9,238.1 397.0,238.1 397.2,238.1 397.3,238.1 397.5,238.1 397.7,238.1 397.8,238.1 398.0,238.1 398.1,238.1 398.3,238.1 398.4,238.1 398.6,238.1 398.7,238.1 398.9,238.1 399.0,238.1 399.2,238.1 399.3,238.1 399.5,238.1 399.6,238.1 399.8,238.1 399.9,238.1 400.1,238.1 400.2,238.1 400.4,238.1 400.5,238.1 400.7,238.1"/>
<polyline stroke="#0f0" points="35.2,238.1 35.4,238.1 35.5,238.1 35.7,238.1 35.8,238.1 36.0,238.1 36.1,238.1 36.3,238.1 36.4,238.1 36.6,238.1 36.7,238.1 36.9,238.1 37.0,238.1 37.2,238.1 37.3,238.1 37.5,238.1 37.6,238.1 37.8,238.1 37.9,238.1 38.1,238.1 38.2,238.1 38.4,238.1 38.6,238.1 38.7,238.1 38.9,238.1 39.0,238.1 39.2,238.1 39.3,238.1 39.5,238.1 39.6,238.1 39.8,238.1 39.9,238.1 40.1,238.1 40.2,238.1 40.4,238.1 40.5,238.1 40.7,238.1 40.8,238.1 41.0,238.1 41.1,238.1 41.3,238.1 41.4,238.1 41.6,238.1 41.7,238.1 41.9,238.1 42.1,238.1 42.2,238.1 42.4,238.1 42.5,238.1 42.7,238.1 42.8,238.1 43.0,238.1 43.1,238.1 43.3,238.1 43.4,238.1 43.6,238.1 43.7,238.1 43.9,238.1 44.0,238.1 44.2,238.1 44.3,238.1 44.5,238.1 44.6,238.1 44.8,238.1 44.9,238.1 45.1,238.1 45.3,238.1 45.4,238.1 45.6,238.1 45.7,238.1 45.9,238.1 46.0,238.1 46.2,238.1 46.3,238.1 46.5,238.1 46.6,238.1 46.8,238.1 46.9,238.1 47.1,238.1 47.2,238.1 47.4,238.1 47.5,238.1 47.7,238.1 47.8,238.1 48.0,238.1 48.1,238.1 48.3,238.1 48.4,238.1 48.6,238.1 48.8,238.1 48.9,238.1 49.1,238.1 49.2,238.1 49.4,238.1 49.5,238.1 49.7,238.1 49.8,238.1 50.0,238.1 50.1,238.1 50.3,238.1 50.4,238.1 50.6,238.1 50.7,238.1 50.9,238.1 51.0,238.1 51.2,238.1 51.3,238.1 51.5,238.1 51.6,238.1 51.8,238.1 52.0,238.1 52.1,238.1 52.3,238.1 52.4,238.1 52.6,238.1 52.7,238.1 52.9,238.1 53.0,238.1 53.2,238.1 53.3,238.1 53.5,238.1 53.6,238.1 53.8,238.1 53.9,238.1 54.1,238.1 54.2,238.1 54.4,238.1 54.5,238.1 54.7,238.1 54.8,238.1 55.0,238.1 55.2,238.1 55.3,238.1 55.5,238.1 55.6,238.1 55.8,238.1 55.9,238.1 56.1,238.1 56.2,238.1 56.4,238.1 56.5,238.1 56.7,238.1 56.8,238.1 57.0,238.1 57.1,238.1 57.3,238.1 57.4,238.1 57.6,238.1 57.7,238.1 57.9,238.1 58.0,238.1 58.2,238.1 58.3,238.1 58.5,238.1 58.7,238.1 58.8,238.1 59.0,238.1 59.1,238.1 59.3,238.1 59.4,238.1 59.6,238.1 59.7,238.1 59.9,238.1 60.0,238.1 60.2,238.1 60.3,238.1 60.5,238.1 60.6,238.1 60.8,238.1 60.9,238.1 61.1,238.1 61.2,238.1 61.4,238.1 61.5,238.1 61.7,238.1 61.9,238.1 62.0,238.1 62.2,238.1 62.3,238.1 62.5,238.1 62.6,238.1 62.8,238.1 62.9,238.1 63.1,238.1 63.2,238.1 63.4,238.1 63.5,238.1 63.7,238.1 63.8,238.1 64.0,238.1 64.1,238.1 64.3,238.1 64.4,238.1 64.6,238.1 64.7,238.1 64.9,238.1 65.0,238.1 65.2,238.1 65.4,238.1 65.5,238.1 65.7,238.1 65.8,238.1 66.0,238.1 66.1,238.1 66.3,238.1 66.4,238.1 66.6,238.1 66.7,238.1 66.9,238.1 67.0,238.1 67.2,238.1 67.3,238.1 67.5,238.1 67.6,238.1 67.8,238.1 67.9,238.1 68.1,238.1 68.2,238.1 68.4,238.1 68.6,238.1 68.7,238.1 68.9,238.1 69.0,238.1 69.2,238.1 69.3,238.1 69.5,238.1 69.6,238.1 69.8,238.1 69.9,238.1 70.1,238.1 70.2,238.1 70.4,238.1 70.5,238.1 70.7,238.1 70.8,238.1 71.0,238.1 71.1,238.1 71.3,238.1 71.4,238.1 71.6,238.1 71.8,238.1 71.9,238.1 72.1,238.1 72.2,238.1 72.4,238.1 72.5,238.1 72.7,238.1 72.8,238.1 73.0,238.1 73.1,238.1 73.3,238.1 73.4,238.1 73.6,238.1 73.7,238.1 73.9,238.1 74.0,238.1 74.2,238.1 74.3,238.1 74.5,238.1 74.6,238.1 74.8,238.1 74.9,238.1 75.1,238.1 75.3,238.1 75.4,238.1 75.6,238.1 75.7,238.1 75.9,238.1 76.0,238.1 76.2,238.1 76.3,238.1 76.5,238.1 76.6,238.1 76.8,238.1 76.9,238.1 77.1,238.1 77.2,238.1 77.4,238.1 77.5,238.1 77.7,238.1 77.8,238.1 78.0,238.1 78.1,238.1 78.3,238.1 78.5,238.1 78.6,238.1 78.8,238.1 78.9,238.1 79.1,238.1 79.2,238.1 79.4,238.1 79.5,238.1 79.7,238.1 79.8,238.1 80.0,238.1 80.1,238.1 80.3,238.1 80.4,238.1 80.6,238.1 80.7,238.1 80.9,238.1 81.0,238.1 81.2,238.1 81.3,238.1 81.5,238.1 81.6,238.1 81.8,238.1 82.0,238.1 82.1,238.1 82.3,238.1 82.4,238.1 82.6,238.1 82.7,238.1 82.9,238.1 83.0,238.1 83.2,238.1 83.3,238.1 83.5,238.1 83.6,238.1 83.8,238.1 83.9,238.1 84.1,238.1 84.2,238.1 84.4,238.1 84.5,238.1 84.7,238.1 84.8,238.1 85.0,238.1 85.2,238.1 85.3,238.1 85.5,238.1 85.6,238.1 85.8,238.1 85.9,238.1 86.1,238.1 86.2,238.1 86.4,238.1 86.5,238.1 86.7,238.1 86.8,238.1 87.0,238.1 87.1,238.1 87.3,238.1 87.4,238.1 87.6,238.1 87.7,238.1 87.9,238.1 88.0,238.1 88.2,238.1 88.3,238.1 88.5,238.1 88.7,238.1 88.8,238.1 89.0,238.1 89.1,238.1 89.3,238.1 89.4,238.1 89.6,238.1 89.7,238.1 89.9,238.1 90.0,238.1 90.2,238.1 90.3,238.1 90.5,238.1 90.6,238.1 90.8,238.1 90.9,238.1 91.1,238.1 91.2,238.1 91.4,238.1 91.5,238.1 91.7,238.1 91.9,238.1 92.0,238.1 92.2,238.1 92.3,238.1 92.5,238.1 92.6,238.1 92.8,238.1 92.9,238.1 93.1,238.1 93.2,238.1 93.4,238.1 93.5,238.1 93.7,238.1 93.8,238.1 94.0,238.1 94.1,238.1 94.3,238.1 94.4,238.1 94.6,238.1 94.7,238.1 94.9,238.1 95.1,238.1 95.2,238.1 95.4,238.1 95.5,238.1 95.7,238.1 95.8,238.1 96.0,238.1 96.1,238.1 96.3,238.1 96.4,238.1 96.6,238.1 96.7,238.1 96.9,238.1 97.0,238.1 97.2,238.1 97.3,238.1 97.5,238.1 97.6,238.1 97.8,238.1 97.9,238.1 98.1,238.1 98.2,238.1 98.4,238.1 98.6,238.1 98.7,238.1 98.9,238.1 99.0,238.1 99.2,238.1 99.3,238.1 99.5,238.1 99.6,238.1 99.8,238.1 99.9,238.1 100.1,238.1 100.2,238.1 100.4,238.1 100.5,238.1 100.7,238.1 100.8,238.1 101.0,238.1 101.1,238.1 101.3,238.1 101.4,238.1 101.6,238.1 101.8,238.1 101.9,238.1 102.1,238.1 102.2,238.1 102.4,238.1 102.5,238.1 102.7,238.1 102.8,238.1 103.0,238.1 103.1,238.1 103.3,238.1 103.4,238.1 103.6,238.1 103.7,238.1 103.9,238.1 104.0,238.1 104.2,238.1 104.3,238.1 104.5,238.1 104.6,238.1 104.8,238.1 104.9,238.1 105.1,238.1 105.3,238.1 105.4,238.1 105.6,238.1 105.7,238.1 105.9,238.1 106.0,238.1 106.2,238.1 106.3,238.1 106.5,238.1 106.6,238.1 106.8,238.1 106.9,238.1 107.1,238.1 107.2,238.1 107.4,238.1 107.5,238.1 107.7,238.1 107.8,238.1 108.0,238.1 108.1,238.1 108.3,238.1 108.5,238.1 108.6,238.1 108.8,238.1 108.9,238.1 109.1,238.1 109.2,238.1 109.4,238.1 109.5,238.1 109.7,238.1 109.8,238.1 110.0,238.1 110.1,238.1 110.3,238.1 110.4,238.1 110.6,238.1 110.7,238.1 110.9,238.1 111.0,238.1 111.2,238.1 111.3,238.1 111.5,238.1 111.7,238.1 111.8,238.1 112.0,238.1 112.1,238.1 112.3,238.1 112.4,238.1 112.6,238.1 112.7,238.1 112.9,238.1 113.0,238.1 113.2,238.1 113.3,238.1 113.5,238.1 113.6,238.1 113.8,238.1 113.9,238.1 114.1,238.1 114.2,238.1 114.4,238.1 114.5,238.1 114.7,238.1 114.8,238.1 115.0,238.1 115.2,238.1 115.3,238.1 115.5,238.1 115.6,238.1 115.8,238.1 115.9,238.1 116.1,238.1 116.2,238.1 116.4,238.1 116.5,238.1 116.7,238.1 116.8,238.1 117.0,238.1 117.1,238.1 117.3,238.1 117.4,238.1 117.6,238.1 117.7,238.1 117.9,238.1 118.0,238.1 118.2,238.1 118.4,238.1 118.5,238.1 118.7,238.1 118.8,238.1 119.0,238.1 119.1,238.1 119.3,238.1 119.4,238.1 119.6,238.1 119.7,238.1 119.9,238.1 120.0,238.1 120.2,238.1 120.3,238.1 120.5,238.1 120.6,238.1 120.8,238.1 120.9,238.1 121.1,238.1 121.2,238.1 121.4,238.1 121.5,238.1 121.7,238.1 121.9,238.1 122.0,238.1 122.2,238.1 122.3,238.1 122.5,238.1 122.6,238.1 122.8,238.1 122.9,238.1 123.1,238.1 123.2,238.1 123.4,238.1 123.5,238.1 123.7,238.1 123.8,238.1 124.0,238.1 124.1,238.1 124.3,238.1 124.4,238.1 124.6,238.1 124.7,238.1 124.9,238.1 125.1,238.1 125.2,238.1 125.4,238.1 125.5,238.1 125.7,238.1 125.8,238.1 126.0,238.1 126.1,238.1 126.3,238.1 126.4,238.1 126.6,238.1 126.7,238.1 126.9,238.1 127.0,238.1 127.2,238.1 127.3,238.1 127.5,238.1 127.6,238.1 127.8,238.1 127.9,238.1 128.1,238.1 128.3,238.1 128.4,238.1 128.6,238.1 128.7,238.1 128.9,238.1 129.0,238.1 129.2,238.1 129.3,238.1 129.5,238.1 129.6,238.1 129.8,238.1 129.9,238.1 130.1,238.1 130.2,238.1 130.4,238.1 130.5,238.1 130.7,238.1 130.8,238.1 131.0,238.1 131.1,238.1 131.3,238.1 131.4,238.1 131.6,238.1 131.8,238.1 131.9,238.1 132.1,238.1 132.2,238.1 132.4,238.1 132.5,238.1 132.7,238.1 132.8,238.1 133.0,238.1 133.1,238.1 133.3,238.1 133.4,238.1 133.6,238.1 133.7,238.1 133.9,238.1 134.0,238.1 134.2,238.1 134.3,238.1 134.5,238.1 134.6,238.1 134.8,238.1 135.0,238.1 135.1,238.1 135.3,238.1 135.4,238.1 135.6,238.1 135.7,238.1 135.9,238.1 136.0,238.1 136.2,238.1 136.3,238.1 136.5,238.1 136.6,238.1 136.8,238.1 136.9,238.1 137.1,238.1 137.2,238.1 137.4,238.1 137.5,238.1 137.7,238.1 137.8,238.1 138.0,238.1 138.1,238.1 138.3,238.1 138.5,238.1 138.6,238.1 138.8,238.1 138.9,238.1 139.1,238.1 139.2,238.1 139.4,238.1 139.5,238.1 139.7,238.1 139.8,238.1 140.0,238.1 140.1,238.1 140.3,238.1 140.4,238.1 140.6,238.1 140.7,238.1 140.9,238.1 141.0,238.1 141.2,238.1 141.3,238.1 141.5,238.1 141.7,238.1 141.8,238.1 142.0,238.1 142.1,238.1 142.3,238.1 142.4,238.1 142.6,238.1 142.7,238.1 142.9,238.1 143.0,238.1 143.2,238.1 143.3,238.1 143.5,238.1 143.6,238.1 143.8,238.1 143.9,238.1 144.1,238.1 144.2,238.1 144.4,238.1 144.5,238.1 144.7,238.1 144.8,238.1 145.0,238.1 145.2,238.1 145.3,238.1 145.5,238.1 145.6,238.1 145.8,238.1 145.9,238.1 146.1,238.1 146.2,238.1 146.4,238.1 146.5,238.1 146.7,238.1 146.8,238.1 147.0,238.1 147.1,238.1 147.3,238.1 147.4,238.1 147.6,238.1 147.7,238.1 147.9,238.1 148.0,238.1 148.2,238.1 148.4,238.1 148.5,238.1 148.7,238.1 148.8,238.1 149.0,238.1 149.1,238.1 149.3,238.1 149.4,238.1 149.6,238.1 149.7,238.1 149.9,238.1 150.0,238.1 150.2,238.1 150.3,238.1 150.5,238.1 150.6,238.1 150.8,238.1 150.9,238.1 151.1,238.1 151.2,238.1 151.4,238.1 151.6,238.1 151.7,238.1 151.9,238.1 152.0,238.1 152.2,238.1 152.3,238.1 152.5,238.1 152.6,238.1 152.8,238.1 152.9,238.1 153.1,238.1 153.2,238.1 153.4,238.1 153.5,238.1 153.7,238.1 153.8,238.1 154.0,238.1 154.1,238.1 154.3,238.1 154.4,238.1 154.6,238.1 154.7,238.1 154.9,238.1 155.1,238.1 155.2,238.1 155.4,238.1 155.5,238.1 155.7,238.1 155.8,238.1 156.0,238.1 156.1,238.1 156.3,238.1 156.4,238.1 156.6,238.1 156.7,238.1 156.9,238.1 157.0,238.1 157.2,238.1 157.3,238.1 157.5,238.1 157.6,238.1 157.8,238.1 157.9,227.1 158.1,238.1 158.3,238.1 158.4,238.1 158.6,238.1 158.7,238.1 158.9,238.1 159.0,238.1 159.2,238.1 159.3,238.1 159.5,238.1 159.6,238.1 159.8,238.1 159.9,238.1 160.1,238.1 160.2,238.1 160.4,238.1 160.5,238.1 160.7,238.1 160.8,238.1 161.0,238.1 161.1,238.1 161.3,238.1 161.4,238.1 161.6,238.1 161.8,238.1 161.9,238.1 162.1,238.1 162.2,238.1 162.4,238.1 162.5,238.1 162.7,238.1 162.8,238.1 163.0,238.1 163.1,238.1 163.3,238.1 163.4,238.1 163.6,238.1 163.7,238.1 163.9,238.1 164.0,238.1 164.2,238.1 164.3,238.1 164.5,238.1 164.6,227.1 164.8,227.1 165.0,227.1 165.1,227.1 165.3,238.1 165.4,238.1 165.6,238.1 165.7,238.1 165.9,227.1 166.0,238.1 166.2,238.1 166.3,238.1 166.5,238.1 166.6,238.1 166.8,238.1 166.9,238.1 167.1,227.1 167.2,227.1 167.4,238.1 167.5,238.1 167.7,238.1 167.8,238.1 168.0,238.1 168.2,238.1 168.3,238.1 168.5,227.1 168.6,227.1 168.8,238.1 168.9,227.1 169.1,227.1 169.2,238.1 169.4,238.1 169.5,238.1 169.7,227.1 169.8,227.1 170.0,238.1 170.1,238.1 170.3,238.1 170.4,227.1 170.6,238.1 170.7,227.1 170.9,238.1 171.0,238.1 171.2,238.1 171.3,238.1 171.5,238.1 171.7,227.1 171.8,238.1 172.0,238.1 172.1,238.1 172.3,217.4 172.4,238.1 172.6,238.1 172.7,217.4 172.9,227.1 173.0,238.1 173.2,217.4 173.3,217.4 173.5,238.1 173.6,227.1 173.8,227.1 173.9,227.1 174.1,238.1 174.2,227.1 174.4,217.4 174.5,211.8 174.7,217.4 174.9,217.4 175.0,211.8 175.2,217.4 175.3,217.4 175.5,238.1 175.6,238.1 175.8,227.1 175.9,227.1 176.1,227.1 176.2,238.1 176.4,217.4 176.5,227.1 176.7,227.1 176.8,217.4 177.0,211.8 177.1,204.6 177.3,211.8 177.4,207.7 177.6,207.7 177.7,217.4 177.9,211.8 178.0,211.8 178.2,227.1 178.4,207.7 178.5,217.4 178.7,207.7 178.8,199.9 179.0,211.8 179.1,211.8 179.3,211.8 179.4,202.1 179.6,202.1 179.7,211.8 179.9,227.1 180.0,204.6 180.2,204.6 180.3,199.9 180.5,202.1 180.6,217.4 180.8,207.7 180.9,207.7 181.1,198.0 181.2,202.1 181.4,198.0 181.6,202.1 181.7,217.4 181.9,198.0 182.0,207.7 182.2,207.7 182.3,202.1 182.5,198.0 182.6,202.1 182.8,199.9 182.9,204.6 183.1,227.1 183.2,204.6 183.4,217.4 183.5,198.0 183.7,211.8 183.8,191.3 184.0,204.6 184.1,204.6 184.3,192.4 184.4,193.6 184.6,191.3 184.8,196.4 184.9,198.0 185.1,199.9 185.2,194.9 185.4,198.0 185.5,194.9 185.7,198.0 185.8,192.4 186.0,194.9 186.1,204.6 186.3,194.9 186.4,198.0 186.6,192.4 186.7,207.7 186.9,207.7 187.0,189.3 187.2,183.3 187.3,191.3 187.5,194.9 187.6,183.9 187.8,186.0 187.9,192.4 188.1,199.9 188.3,199.9 188.4,186.0 188.6,183.3 188.7,188.4 188.9,184.6 189.0,186.7 189.2,188.4 189.3,185.2 189.5,185.2 189.6,182.7 189.8,181.6 189.9,185.2 190.1,189.3 190.2,183.3 190.4,182.1 190.5,181.0 190.7,178.7 190.8,178.7 191.0,182.1 191.1,181.0 191.3,179.6 191.5,179.1 191.6,180.5 191.8,181.0 191.9,175.9 192.1,175.9 192.2,173.9 192.4,179.1 192.5,177.0 192.7,181.6 192.8,174.2 193.0,174.5 193.1,171.6 193.3,175.9 193.4,172.2 193.6,172.4 193.7,172.2 193.9,171.6 194.0,171.6 194.2,172.7 194.3,168.6 194.5,170.1 194.6,170.4 194.8,167.7 195.0,167.1 195.1,165.3 195.3,167.9 195.4,168.1 195.6,167.3 195.7,167.0 195.9,165.5 196.0,164.9 196.2,164.2 196.3,163.6 196.5,165.5 196.6,162.6 196.8,161.9 196.9,159.8 197.1,161.7 197.2,161.7 197.4,158.3 197.5,161.8 197.7,159.5 197.8,157.5 198.0,155.6 198.2,157.5 198.3,155.3 198.5,155.5 198.6,152.8 198.8,153.1 198.9,154.1 199.1,151.2 199.2,152.9 199.4,149.0 199.5,150.4 199.7,149.7 199.8,150.8 200.0,148.8 200.1,148.0 200.3,147.3 200.4,147.0 200.6,145.0 200.7,145.6 200.9,143.8 201.0,143.9 201.2,142.2 201.4,140.0 201.5,141.1 201.7,139.5 201.8,139.7 202.0,137.9 202.1,138.1 202.3,137.7 202.4,136.6 202.6,135.4 202.7,135.2 202.9,134.2 203.0,133.1 203.2,132.9 203.3,131.2 203.5,130.9 203.6,129.7 203.8,129.6 203.9,127.5 204.1,127.7 204.2,126.3 204.4,125.3 204.5,124.0 204.7,123.3 204.9,122.9 205.0,121.4 205.2,120.3 205.3,119.1 205.5,118.4 205.6,117.4 205.8,116.7 205.9,114.9 206.1,114.3 206.2,112.5 206.4,111.5 206.5,110.0 206.7,108.2 206.8,107.2 207.0,105.8 207.1,104.6 207.3,103.7 207.4,101.9 207.6,101.4 207.7,100.1 207.9,98.8 208.1,98.0 208.2,97.4 208.4,95.8 208.5,95.2 208.7,93.9 208.8,93.1 209.0,92.0 209.1,91.3 209.3,90.2 209.4,89.4 209.6,88.5 209.7,87.5 209.9,86.7 210.0,85.8 210.2,84.8 210.3,84.0 210.5,83.0 210.6,82.1 210.8,81.2 210.9,80.2 211.1,79.4 211.2,78.4 211.4,77.3 211.6,76.5 211.7,75.4 211.9,74.4 212.0,73.3 212.2,72.4 212.3,71.2 212.5,70.2 212.6,69.1 212.8,67.9 212.9,66.8 213.1,65.6 213.2,64.4 213.4,63.1 213.5,61.8 213.7,60.5 213.8,59.1 214.0,57.7 214.1,56.3 214.3,54.8 214.4,53.3 214.6,51.8 214.8,50.3 214.9,48.8 215.1,47.2 215.2,45.6 215.4,44.1 215.5,42.5 215.7,40.9 215.8,39.3 216.0,37.7 216.1,36.0 216.3,34.3 216.4,32.6 216.6,30.9 216.7,29.2 216.9,27.4 217.0,25.6 217.2,23.8 217.3,22.0 217.5,20.1 217.6,18.3 217.8,16.4 217.9,14.5 218.1,16.4 218.3,18.3 218.4,20.1 218.6,22.0 218.7,23.8 218.9,25.6 219.0,27.4 219.2,29.2 219.3,30.9 219.5,32.6 219.6,34.3 219.8,36.0 219.9,37.7 220.1,39.3 220.2,40.9 220.4,42.5 220.5,44.1 220.7,45.6 220.8,47.3 221.0,48.8 221.1,50.3 221.3,51.8 221.5,53.3 221.6,54.8 221.8,56.3 221.9,57.7 222.1,59.1 222.2,60.4 222.4,61.7 222.5,63.1 222.7,64.4 222.8,65.6 223.0,66.8 223.1,67.9 223.3,69.1 223.4,70.2 223.6,71.2 223.7,72.3 223.9,73.3 224.0,74.5 224.2,75.4 224.3,76.4 224.5,77.4 224.7,78.3 224.8,79.2 225.0,80.3 225.1,81.2 225.3,82.3 225.4,83.0 225.6,83.9 225.7,84.9 225.9,85.8 226.0,86.6 226.2,87.4 226.3,88.4 226.5,89.4 226.6,90.3 226.8,91.1 226.9,92.2 227.1,93.1 227.2,94.1 227.4,95.3 227.5,95.8 227.7,96.9 227.8,98.0 228.0,99.3 228.2,100.1 228.3,101.4 228.5,102.2 228.6,103.4 228.8,104.7 228.9,105.7 229.1,107.3 229.2,108.6 229.4,110.0 229.5,111.3 229.7,112.6 229.8,113.9 230.0,115.3 230.1,116.0 230.3,117.1 230.4,118.6 230.6,119.3 230.7,120.2 230.9,122.0 231.0,122.2 231.2,122.8 231.4,124.6 231.5,124.5 231.7,126.3 231.8,126.1 232.0,128.0 232.1,128.8 232.3,129.0 232.4,130.0 232.6,131.3 232.7,131.9 232.9,132.7 233.0,133.8 233.2,133.2 233.3,135.3 233.5,136.5 233.6,136.5 233.8,137.1 233.9,138.1 234.1,138.8 234.2,139.8 234.4,140.5 234.5,140.5 234.7,142.6 234.9,143.2 235.0,144.4 235.2,143.6 235.3,144.7 235.5,146.6 235.6,145.5 235.8,146.9 235.9,148.3 236.1,149.0 236.2,150.7 236.4,150.1 236.5,150.3 236.7,149.5 236.8,151.7 237.0,153.3 237.1,154.4 237.3,153.8 237.4,155.1 237.6,155.3 237.7,154.9 237.9,156.6 238.1,156.3 238.2,155.4 238.4,155.2 238.5,159.6 238.7,159.1 238.8,160.0 239.0,160.4 239.1,162.5 239.3,160.8 239.4,160.7 239.6,164.5 239.7,162.5 239.9,162.7 240.0,165.0 240.2,164.7 240.3,164.7 240.5,170.1 240.6,168.1 240.8,169.7 240.9,168.3 241.1,168.8 241.3,167.5 241.4,173.0 241.6,169.4 241.7,173.9 241.9,173.0 242.0,175.6 242.2,172.7 242.3,178.7 242.5,173.0 242.6,178.2 242.8,177.4 242.9,175.2 243.1,174.9 243.2,177.8 243.4,176.6 243.5,179.1 243.7,177.4 243.8,185.2 244.0,182.7 244.1,176.6 244.3,186.0 244.4,180.5 244.6,186.7 244.8,181.6 244.9,183.9 245.1,181.6 245.2,181.0 245.4,183.9 245.5,180.0 245.7,190.2 245.8,188.4 246.0,187.5 246.1,183.9 246.3,185.2 246.4,188.4 246.6,186.0 246.7,189.3 246.9,184.6 247.0,187.5 247.2,191.3 247.3,192.4 247.5,187.5 247.6,191.3 247.8,196.4 248.0,199.9 248.1,194.9 248.3,196.4 248.4,188.4 248.6,198.0 248.7,191.3 248.9,190.2 249.0,198.0 249.2,189.3 249.3,202.1 249.5,193.6 249.6,204.6 249.8,198.0 249.9,199.9 250.1,204.6 250.2,193.6 250.4,192.4 250.5,192.4 250.7,196.4 250.8,191.3 251.0,194.9 251.1,202.1 251.3,202.1 251.5,193.6 251.6,202.1 251.8,238.1 251.9,204.6 252.1,202.1 252.2,204.6 252.4,217.4 252.5,194.9 252.7,211.8 252.8,211.8 253.0,202.1 253.1,202.1 253.3,217.4 253.4,198.0 253.6,207.7 253.7,207.7 253.9,198.0 254.0,204.6 254.2,207.7 254.3,204.6 254.5,204.6 254.7,204.6 254.8,207.7 255.0,227.1 255.1,202.1 255.3,204.6 255.4,217.4 255.6,227.1 255.7,238.1 255.9,204.6 256.0,238.1 256.2,227.1 256.3,227.1 256.5,211.8 256.6,217.4 256.8,227.1 256.9,227.1 257.1,217.4 257.2,211.8 257.4,227.1 257.5,199.9 257.7,211.8 257.9,238.1 258.0,211.8 258.2,217.4 258.3,238.1 258.5,211.8 258.6,211.8 258.8,217.4 258.9,211.8 259.1,217.4 259.2,217.4 259.4,238.1 259.5,217.4 259.7,227.1 259.8,227.1 260.0,238.1 260.1,217.4 260.3,238.1 260.4,227.1 260.6,227.1 260.7,227.1 260.9,207.7 261.0,217.4 261.2,217.4 261.4,217.4 261.5,227.1 261.7,238.1 261.8,227.1 262.0,227.1 262.1,227.1 262.3,217.4 262.4,217.4 262.6,238.1 262.7,227.1 262.9,227.1 263.0,227.1 263.2,238.1 263.3,238.1 263.5,238.1 263.6,238.1 263.8,227.1 263.9,227.1 264.1,238.1 264.2,238.1 264.4,238.1 264.6,238.1 264.7,227.1 264.9,227.1 265.0,238.1 265.2,227.1 265.3,227.1 265.5,227.1 265.6,238.1 265.8,227.1 265.9,238.1 266.1,238.1 266.2,227.1 266.4,227.1 266.5,238.1 266.7,238.1 266.8,238.1 267.0,227.1 267.1,227.1 267.3,238.1 267.4,227.1 267.6,238.1 267.7,238.1 267.9,238.1 268.1,238.1 268.2,238.1 268.4,238.1 268.5,227.1 268.7,238.1 268.8,238.1 269.0,238.1 269.1,238.1 269.3,217.4 269.4,227.1 269.6,227.1 269.7,238.1 269.9,227.1 270.0,238.1 270.2,227.1 270.3,238.1 270.5,238.1 270.6,217.4 270.8,238.1 270.9,238.1 271.1,238.1 271.3,238.1 271.4,217.4 271.6,238.1 271.7,238.1 271.9,238.1 272.0,227.1 272.2,238.1 272.3,238.1 272.5,238.1 272.6,238.1 272.8,238.1 272.9,238.1 273.1,238.1 273.2,238.1 273.4,238.1 273.5,238.1 273.7,227.1 273.8,238.1 274.0,238.1 274.1,238.1 274.3,238.1 274.5,227.1 274.6,238.1 274.8,227.1 274.9,238.1 275.1,238.1 275.2,238.1 275.4,238.1 275.5,238.1 275.7,217.4 275.8,227.1 276.0,227.1 276.1,238.1 276.3,227.1 276.4,238.1 276.6,238.1 276.7,238.1 276.9,217.4 277.0,238.1 277.2,238.1 277.3,238.1 277.5,238.1 277.6,238.1 277.8,238.1 278.0,238.1 278.1,238.1 278.3,238.1 278.4,238.1 278.6,238.1 278.7,238.1 278.9,238.1 279.0,238.1 279.2,238.1 279.3,238.1 279.5,238.1 279.6,238.1 279.8,238.1 279.9,238.1 280.1,238.1 280.2,238.1 280.4,238.1 280.5,238.1 280.7,238.1 280.8,238.1 281.0,238.1 281.2,238.1 281.3,238.1 281.5,238.1 281.6,238.1 281.8,227.1 281.9,227.1 282.1,238.1 282.2,238.1 282.4,238.1 282.5,217.4 282.7,238.1 282.8,238.1 283.0,238.1 283.1,238.1 283.3,238.1 283.4,238.1 283.6,238.1 283.7,227.1 283.9,238.1 284.0,238.1 284.2,227.1 284.3,238.1 284.5,238.1 284.7,238.1 284.8,238.1 285.0,227.1 285.1,238.1 285.3,238.1 285.4,238.1 285.6,238.1 285.7,238.1 285.9,238.1 286.0,238.1 286.2,227.1 286.3,227.1 286.5,238.1 286.6,238.1 286.8,238.1 286.9,238.1 287.1,238.1 287.2,238.1 287.4,238.1 287.5,238.1 287.7,238.1 287.9,238.1 288.0,238.1 288.2,238.1 288.3,238.1 288.5,238.1 288.6,238.1 288.8,238.1 288.9,238.1 289.1,238.1 289.2,238.1 289.4,238.1 289.5,238.1 289.7,238.1 289.8,238.1 290.0,238.1 290.1,238.1 290.3,238.1 290.4,227.1 290.6,238.1 290.7,227.1 290.9,238.1 291.0,227.1 291.2,238.1 291.4,238.1 291.5,238.1 291.7,238.1 291.8,238.1 292.0,238.1 292.1,227.1 292.3,227.1 292.4,238.1 292.6,238.1 292.7,238.1 292.9,227.1 293.0,238.1 293.2,238.1 293.3,238.1 293.5,238.1 293.6,238.1 293.8,238.1 293.9,238.1 294.1,238.1 294.2,238.1 294.4,238.1 294.6,238.1 294.7,238.1 294.9,238.1 295.0,238.1 295.2,238.1 295.3,238.1 295.5,238.1 295.6,238.1 295.8,238.1 295.9,238.1 296.1,238.1 296.2,238.1 296.4,238.1 296.5,238.1 296.7,238.1 296.8,238.1 297.0,238.1 297.1,227.1 297.3,238.1 297.4,238.1 297.6,238.1 297.8,238.1 297.9,238.1 298.1,238.1 298.2,238.1 298.4,238.1 298.5,227.1 298.7,238.1 298.8,238.1 299.0,238.1 299.1,238.1 299.3,238.1 299.4,238.1 299.6,238.1 299.7,238.1 299.9,238.1 300.0,238.1 300.2,238.1 300.3,238.1 300.5,238.1 300.6,238.1 300.8,238.1 300.9,227.1 301.1,227.1 301.3,238.1 301.4,238.1 301.6,238.1 301.7,238.1 301.9,227.1 302.0,238.1 302.2,238.1 302.3,238.1 302.5,238.1 302.6,238.1 302.8,238.1 302.9,238.1 303.1,238.1 303.2,238.1 303.4,238.1 303.5,238.1 303.7,238.1 303.8,238.1 304.0,238.1 304.1,238.1 304.3,238.1 304.5,238.1 304.6,238.1 304.8,238.1 304.9,238.1 305.1,238.1 305.2,238.1 305.4,238.1 305.5,238.1 305.7,238.1 305.8,238.1 306.0,238.1 306.1,238.1 306.3,238.1 306.4,238.1 306.6,238.1 306.7,238.1 306.9,238.1 307.0,238.1 307.2,227.1 307.3,238.1 307.5,238.1 307.6,238.1 307.8,238.1 308.0,238.1 308.1,238.1 308.3,238.1 308.4,238.1 308.6,238.1 308.7,238.1 308.9,238.1 309.0,238.1 309.2,238.1 309.3,238.1 309.5,238.1 309.6,238.1 309.8,238.1 309.9,238.1 310.1,238.1 310.2,238.1 310.4,238.1 310.5,238.1 310.7,238.1 310.8,238.1 311.0,238.1 311.2,238.1 311.3,238.1 311.5,238.1 311.6,238.1 311.8,238.1 311.9,238.1 312.1,238.1 312.2,238.1 312.4,238.1 312.5,238.1 312.7,238.1 312.8,238.1 313.0,238.1 313.1,238.1 313.3,238.1 313.4,238.1 313.6,238.1 313.7,238.1 313.9,238.1 314.0,238.1 314.2,238.1 314.4,238.1 314.5,238.1 314.7,238.1 314.8,238.1 315.0,227.1 315.1,238.1 315.3,238.1 315.4,238.1 315.6,238.1 315.7,238.1 315.9,238.1 316.0,238.1 316.2,238.1 316.3,227.1 316.5,238.1 316.6,238.1 316.8,238.1 316.9,227.1 317.1,238.1 317.2,238.1 317.4,238.1 317.5,238.1 317.7,238.1 317.9,238.1 318.0,238.1 318.2,238.1 318.3,238.1 318.5,238.1 318.6,238.1 318.8,238.1 318.9,238.1 319.1,238.1 319.2,238.1 319.4,238.1 319.5,238.1 319.7,238.1 319.8,238.1 320.0,238.1 320.1,238.1 320.3,238.1 320.4,238.1 320.6,238.1 320.7,238.1 320.9,238.1 321.1,238.1 321.2,238.1 321.4,238.1 321.5,238.1 321.7,238.1 321.8,238.1 322.0,238.1 322.1,238.1 322.3,238.1 322.4,238.1 322.6,238.1 322.7,238.1 322.9,238.1 323.0,238.1 323.2,238.1 323.3,238.1 323.5,238.1 323.6,238.1 323.8,238.1 323.9,238.1 324.1,238.1 324.2,238.1 324.4,238.1 324.6,238.1 324.7,238.1 324.9,238.1 325.0,238.1 325.2,238.1 325.3,238.1 325.5,238.1 325.6,238.1 325.8,238.1 325.9,238.1 326.1,238.1 326.2,238.1 326.4,238.1 326.5,238.1 326.7,238.1 326.8,238.1 327.0,238.1 327.1,238.1 327.3,238.1 327.4,238.1 327.6,238.1 327.8,238.1 327.9,238.1 328.1,238.1 328.2,238.1 328.4,238.1 328.5,238.1 328.7,238.1 328.8,238.1 329.0,238.1 329.1,238.1 329.3,238.1 329.4,238.1 329.6,238.1 329.7,238.1 329.9,238.1 330.0,238.1 330.2,238.1 330.3,238.1 330.5,238.1 330.6,238.1 330.8,238.1 331.0,238.1 331.1,238.1 331.3,238.1 331.4,238.1 331.6,238.1 331.7,238.1 331.9,238.1 332.0,238.1 332.2,238.1 332.3,238.1 332.5,238.1 332.6,238.1 332.8,238.1 332.9,238.1 333.1,238.1 333.2,238.1 333.4,238.1 333.5,238.1 333.7,238.1 333.8,238.1 334.0,238.1 334.1,238.1 334.3,238.1 334.5,238.1 334.6,238.1 334.8,238.1 334.9,238.1 335.1,238.1 335.2,238.1 335.4,238.1 335.5,238.1 335.7,238.1 335.8,238.1 336.0,238.1 336.1,238.1 336.3,238.1 336.4,238.1 336.6,238.1 336.7,238.1 336.9,238.1 337.0,238.1 337.2,238.1 337.3,238.1 337.5,238.1 337.7,238.1 337.8,238.1 338.0,238.1 338.1,238.1 338.3,238.1 338.4,238.1 338.6,238.1 338.7,238.1 338.9,238.1 339.0,238.1 339.2,238.1 339.3,238.1 339.5,238.1 339.6,238.1 339.8,238.1 339.9,238.1 340.1,238.1 340.2,238.1 340.4,238.1 340.5,238.1 340.7,238.1 340.8,238.1 341.0,238.1 341.2,238.1 341.3,238.1 341.5,238.1 341.6,238.1 341.8,238.1 341.9,238.1 342.1,238.1 342.2,238.1 342.4,238.1 342.5,238.1 342.7,238.1 342.8,238.1 343.0,238.1 343.1,238.1 343.3,238.1 343.4,238.1 343.6,238.1 343.7,238.1 343.9,238.1 344.0,238.1 344.2,238.1 344.4,238.1 344.5,238.1 344.7,238.1 344.8,238.1 345.0,238.1 345.1,238.1 345.3,238.1 345.4,238.1 345.6,238.1 345.7,238.1 345.9,238.1 346.0,238.1 346.2,238.1 346.3,238.1 346.5,238.1 346.6,238.1 346.8,238.1 346.9,238.1 347.1,238.1 347.2,238.1 347.4,238.1 347.6,238.1 347.7,238.1 347.9,238.1 348.0,238.1 348.2,238.1 348.3,238.1 348.5,238.1 348.6,238.1 348.8,238.1 348.9,238.1 349.1,238.1 349.2,238.1 349.4,238.1 349.5,238.1 349.7,238.1 349.8,238.1 350.0,238.1 350.1,238.1 350.3,238.1 350.4,238.1 350.6,238.1 350.7,238.1 350.9,238.1 351.1,238.1 351.2,238.1 351.4,238.1 351.5,238.1 351.7,238.1 351.8,238.1 352.0,238.1 352.1,238.1 352.3,238.1 352.4,238.1 352.6,238.1 352.7,238.1 352.9,238.1 353.0,238.1 353.2,238.1 353.3,238.1 353.5,238.1 353.6,238.1 353.8,238.1 353.9,238.1 354.1,238.1 354.3,238.1 354.4,238.1 354.6,238.1 354.7,238.1 354.9,238.1 355.0,238.1 355.2,238.1 355.3,238.1 355.5,238.1 355.6,238.1 355.8,238.1 355.9,238.1 356.1,238.1 356.2,238.1 356.4,238.1 356.5,238.1 356.7,238.1 356.8,238.1 357.0,238.1 357.1,238.1 357.3,238.1 357.4,238.1 357.6,238.1 357.8,238.1 357.9,238.1 358.1,238.1 358.2,238.1 358.4,238.1 358.5,238.1 358.7,238.1 358.8,238.1 359.0,238.1 359.1,238.1 359.3,238.1 359.4,238.1 359.6,238.1 359.7,238.1 359.9,238.1 360.0,238.1 360.2,238.1 360.3,238.1 360.5,238.1 360.6,238.1 360.8,238.1 361.0,238.1 361.1,238.1 361.3,238.1 361.4,238.1 361.6,238.1 361.7,238.1 361.9,238.1 362.0,238.1 362.2,238.1 362.3,238.1 362.5,238.1 362.6,238.1 362.8,238.1 362.9,238.1 363.1,238.1 363.2,238.1 363.4,238.1 363.5,238.1 363.7,238.1 363.8,238.1 364.0,238.1 364.1,238.1 364.3,238.1 364.5,238.1 364.6,238.1 364.8,238.1 364.9,238.1 365.1,238.1 365.2,238.1 365.4,238.1 365.5,238.1 365.7,238.1 365.8,238.1 366.0,238.1 366.1,238.1 366.3,238.1 366.4,238.1 366.6,238.1 366.7,238.1 366.9,238.1 367.0,238.1 367.2,238.1 367.3,238.1 367.5,238.1 367.7,238.1 367.8,238.1 368.0,238.1 368.1,238.1 368.3,238.1 368.4,238.1 368.6,238.1 368.7,238.1 368.9,238.1 369.0,238.1 369.2,238.1 369.3,238.1 369.5,238.1 369.6,238.1 369.8,238.1 369.9,238.1 370.1,238.1 370.2,238.1 370.4,238.1 370.5,238.1 370.7,238.1 370.9,238.1 371.0,238.1 371.2,238.1 371.3,238.1 371.5,238.1 371.6,238.1 371.8,238.1 371.9,238.1 372.1,238.1 372.2,238.1 372.4,238.1 372.5,238.1 372.7,238.1 372.8,238.1 373.0,238.1 373.1,238.1 373.3,238.1 373.4,238.1 373.6,238.1 373.7,238.1 373.9,238.1 374.0,238.1 374.2,238.1 374.4,238.1 374.5,238.1 374.7,238.1 374.8,238.1 375.0,238.1 375.1,238.1 375.3,238.1 375.4,238.1 375.6,238.1 375.7,238.1 375.9,238.1 376.0,238.1 376.2,238.1 376.3,238.1 376.5,238.1 376.6,238.1 376.8,238.1 376.9,238.1 377.1,238.1 377.2,238.1 377.4,238.1 377.6,238.1 377.7,238.1 377.9,238.1 378.0,238.1 378.2,238.1 378.3,238.1 378.5,238.1 378.6,238.1 378.8,238.1 378.9,238.1 379.1,238.1 379.2,238.1 379.4,238.1 379.5,238.1 379.7,238.1 379.8,238.1 380.0,238.1 380.1,238.1 380.3,238.1 380.4,238.1 380.6,238.1 380.7,238.1 380.9,238.1 381.1,238.1 381.2,238.1 381.4,238.1 381.5,238.1 381.7,238.1 381.8,238.1 382.0,238.1 382.1,238.1 382.3,238.1 382.4,238.1 382.6,238.1 382.7,238.1 382.9,238.1 383.0,238.1 383.2,238.1 383.3,238.1 383.5,238.1 383.6,238.1 383.8,238.1 383.9,238.1 384.1,238.1 384.3,238.1 384.4,238.1 384.6,238.1 384.7,238.1 384.9,238.1 385.0,238.1 385.2,238.1 385.3,238.1 385.5,238.1 385.6,238.1 385.8,238.1 385.9,238.1 386.1,238.1 386.2,238.1 386.4,238.1 386.5,238.1 386.7,238.1 386.8,238.1 387.0,238.1 387.1,238.1 387.3,238.1 387.5,238.1 387.6,238.1 387.8,238.1 387.9,238.1 388.1,238.1 388.2,238.1 388.4,238.1 388.5,238.1 388.7,238.1 388.8,238.1 389.0,238.1 389.1,238.1 389.3,238.1 389.4,238.1 389.6,238.1 389.7,238.1 389.9,238.1 390.0,238.1 390.2,238.1 390.3,238.1 390.5,238.1 390.6,238.1 390.8,238.1 391.0,238.1 391.1,238.1 391.3,238.1 391.4,238.1 391.6,238.1 391.7,238.1 391.9,238.1 392.0,238.1 392.2,238.1 392.3,238.1 392.5,238.1 392.6,238.1 392.8,238.1 392.9,238.1 393.1,238.1 393.2,238.1 393.4,238.1 393.5,238.1 393.7,238.1 393.8,238.1 394.0,238.1 394.2,238.1 394.3,238.1 394.5,238.1 394.6,238.1 394.8,238.1 394.9,238.1 395.1,238.1 395.2,238.1 395.4,238.1 395.5,238.1 395.7,238.1 395.8,238.1 396.0,238.1 396.1,238.1 396.3,238.1 396.4,238.1 396.6,238.1 396.7,238.1 396.9,238.1 397.0,238.1 397.2,238.1 397.3,238.1 397.5,238.1 397.7,238.1 397.8,238.1 398.0,238.1 398.1,238.1 398.3,238.1 398.4,238.1 398.6,238.1 398.7,238.1 398.9,238.1 399.0,238.1 399.2,238.1 399.3,238.1 399.5,238.1 399.6,238.1 399.8,238.1 399.9,238.1 400.1,238.1 400.2,238.1 400.4,238.1 400.5,238.1 400.7,238.1"/>
<polyline stroke="#00f" points="35.2,238.1 35.4,238.1 35.5,238.1 35.7,238.1 35.8,238.1 36.0,238.1 36.1,238.1 36.3,238.1 36.4,238.1 36.6,238.1 36.7,238.1 36.9,238.1 37.0,238.1 37.2,238.1 37.3,238.1 37.5,238.1 37.6,238.1 37.8,238.1 37.9,238.1 38.1,238.1 38.2,238.1 38.4,238.1 38.6,238.1 38.7,238.1 38.9,238.1 39.0,238.1 39.2,238.1 39.3,238.1 39.5,238.1 39.6,238.1 39.8,238.1 39.9,238.1 40.1,238.1 40.2,238.1 40.4,238.1 40.5,238.1 40.7,238.1 40.8,238.1 41.0,238.1 41.1,238.1 41.3,238.1 41.4,238.1 41.6,238.1 41.7,238.1 41.9,238.1 42.1,238.1 42.2,238.1 42.4,238.1 42.5,238.1 42.7,238.1 42.8,238.1 43.0,238.1 43.1,238.1 43.3,238.1 43.4,238.1 43.6,238.1 43.7,238.1 43.9,238.1 44.0,238.1 44.2,238.1 44.3,238.1 44.5,238.1 44.6,238.1 44.8,238.1 44.9,238.1 45.1,238.1 45.3,238.1 45.4,238.1 45.6,238.1 45.7,238.1 45.9,238.1 46.0,238.1 46.2,238.1 46.3,238.1 46.5,238.1 46.6,238.1 46.8,238.1 46.9,238.1 47.1,238.1 47.2,238.1 47.4,238.1 47.5,238.1 47.7,238.1 47.8,238.1 48.0,238.1 48.1,238.1 48.3,238.1 48.4,238.1 48.6,238.1 48.8,238.1 48.9,238.1 49.1,238.1 49.2,238.1 49.4,238.1 49.5,238.1 49.7,238.1 49.8,238.1 50.0,238.1 50.1,238.1 50.3,238.1 50.4,238.1 50.6,238.1 50.7,238.1 50.9,238.1 51.0,238.1 51.2,238.1 51.3,238.1 51.5,238.1 51.6,238.1 51.8,238.1 52.0,238.1 52.1,238.1 52.3,238.1 52.4,238.1 52.6,238.1 52.7,238.1 52.9,238.1 53.0,238.1 53.2,238.1 53.3,238.1 53.5,238.1 53.6,238.1 53.8,238.1 53.9,238.1 54.1,238.1 54.2,238.1 54.4,238.1 54.5,238.1 54.7,238.1 54.8,238.1 55.0,238.1 55.2,238.1 55.3,238.1 55.5,238.1 55.6,238.1 55.8,238.1 55.9,238.1 56.1,238.1 56.2,238.1 56.4,238.1 56.5,238.1 56.7,238.1 56.8,238.1 57.0,238.1 57.1,238.1 57.3,238.1 57.4,238.1 57.6,238.1 57.7,238.1 57.9,238.1 58.0,238.1 58.2,238.1 58.3,238.1 58.5,238.1 58.7,238.1 58.8,238.1 59.0,238.1 59.1,238.1 59.3,238.1 59.4,238.1 59.6,238.1 59.7,238.1 59.9,238.1 60.0,238.1 60.2,238.1 60.3,238.1 60.5,238.1 60.6,238.1 60.8,238.1 60.9,238.1 61.1,238.1 61.2,238.1 61.4,238.1 61.5,238.1 61.7,238.1 61.9,238.1 62.0,238.1 62.2,238.1 62.3,238.1 62.5,238.1 62.6,238.1 62.8,238.1 62.9,238.1 63.1,238.1 63.2,238.1 63.4,238.1 63.5,238.1 63.7,238.1 63.8,238.1 64.0,238.1 64.1,238.1 64.3,238.1 64.4,238.1 64.6,238.1 64.7,238.1 64.9,238.1 65.0,238.1 65.2,238.1 65.4,238.1 65.5,238.1 65.7,238.1 65.8,238.1 66.0,238.1 66.1,238.1 66.3,238.1 66.4,238.1 66.6,238.1 66.7,238.1 66.9,238.1 67.0,238.1 67.2,238.1 67.3,238.1 67.5,238.1 67.6,238.1 67.8,238.1 67.9,238.1 68.1,238.1 68.2,238.1 68.4,238.1 68.6,238.1 68.7,238.1 68.9,238.1 69.0,238.1 69.2,238.1 69.3,238.1 69.5,238.1 69.6,238.1 69.8,238.1 69.9,238.1 70.1,238.1 70.2,238.1 70.4,238.1 70.5,238.1 70.7,238.1 70.8,238.1 71.0,238.1 71.1,238.1 71.3,238.1 71.4,238.1 71.6,238.1 71.8,238.1 71.9,238.1 72.1,238.1 72.2,238.1 72.4,238.1 72.5,238.1 72.7,238.1 72.8,238.1 73.0,238.1 73.1,238.1 73.3,238.1 73.4,238.1 73.6,238.1 73.7,238.1 73.9,238.1 74.0,238.1 74.2,238.1 74.3,238.1 74.5,238.1 74.6,238.1 74.8,238.1 74.9,238.1 75.1,238.1 75.3,238.1 75.4,238.1 75.6,238.1 75.7,238.1 75.9,238.1 76.0,238.1 76.2,238.1 76.3,238.1 76.5,238.1 76.6,238.1 76.8,238.1 76.9,238.1 77.1,238.1 77.2,238.1 77.4,238.1 77.5,238.1 77.7,238.1 77.8,238.1 78.0,238.1 78.1,238.1 78.3,238.1 78.5,238.1 78.6,238.1 78.8,238.1 78.9,238.1 79.1,238.1 79.2,238.1 79.4,238.1 79.5,238.1 79.7,238.1 79.8,238.1 80.0,238.1 80.1,238.1 80.3,238.1 80.4,238.1 80.6,238.1 80.7,238.1 80.9,238.1 81.0,238.1 81.2,238.1 81.3,238.1 81.5,238.1 81.6,238.1 81.8,238.1 82.0,238.1 82.1,238.1 82.3,238.1 82.4,238.1 82.6,238.1 82.7,238.1 82.9,238.1 83.0,238.1 83.2,238.1 83.3,238.1 83.5,238.1 83.6,238.1 83.8,238.1 83.9,238.1 84.1,238.1 84.2,238.1 84.4,238.1 84.5,238.1 84.7,238.1 84.8,238.1 85.0,238.1 85.2,238.1 85.3,238.1 85.5,238.1 85.6,238.1 85.8,238.1 85.9,238.1 86.1,238.1 86.2,238.1 86.4,238.1 86.5,238.1 86.7,238.1 86.8,238.1 87.0,238.1 87.1,238.1 87.3,238.1 87.4,238.1 87.6,238.1 87.7,238.1 87.9,238.1 88.0,238.1 88.2,238.1 88.3,238.1 88.5,238.1 88.7,238.1 88.8,238.1 89.0,238.1 89.1,238.1 89.3,238.1 89.4,238.1 89.6,238.1 89.7,238.1 89.9,238.1 90.0,238.1 90.2,238.1 90.3,238.1 90.5,238.1 90.6,238.1 90.8,238.1 90.9,238.1 91.1,238.1 91.2,238.1 91.4,238.1 91.5,238.1 91.7,238.1 91.9,238.1 92.0,238.1 92.2,238.1 92.3,238.1 92.5,238.1 92.6,238.1 92.8,238.1 92.9,238.1 93.1,238.1 93.2,238.1 93.4,238.1 93.5,238.1 93.7,238.1 93.8,238.1 94.0,238.1 94.1,238.1 94.3,238.1 94.4,238.1 94.6,238.1 94.7,238.1 94.9,238.1 95.1,238.1 95.2,238.1 95.4,238.1 95.5,238.1 95.7,238.1 95.8,238.1 96.0,238.1 96.1,238.1 96.3,238.1 96.4,238.1 96.6,238.1 96.7,238.1 96.9,238.1 97.0,238.1 97.2,238.1 97.3,238.1 97.5,238.1 97.6,238.1 97.8,238.1 97.9,238.1 98.1,238.1 98.2,238.1 98.4,238.1 98.6,238.1 98.7,238.1 98.9,238.1 99.0,238.1 99.2,238.1 99.3,238.1 99.5,238.1 99.6,238.1 99.8,238.1 99.9,238.1 100.1,238.1 100.2,238.1 100.4,238.1 100.5,238.1 100.7,238.1 100.8,238.1 101.0,238.1 101.1,238.1 101.3,238.1 101.4,238.1 101.6,238.1 101.8,238.1 101.9,238.1 102.1,238.1 102.2,238.1 102.4,238.1 102.5,238.1 102.7,238.1 102.8,238.1 103.0,238.1 103.1,238.1 103.3,238.1 103.4,238.1 103.6,238.1 103.7,238.1 103.9,238.1 104.0,238.1 104.2,238.1 104.3,238.1 104.5,238.1 104.6,238.1 104.8,238.1 104.9,238.1 105.1,238.1 105.3,238.1 105.4,238.1 105.6,238.1 105.7,238.1 105.9,238.1 106.0,238.1 106.2,238.1 106.3,238.1 106.5,238.1 106.6,238.1 106.8,238.1 106.9,238.1 107.1,238.1 107.2,238.1 107.4,238.1 107.5,238.1 107.7,238.1 107.8,238.1 108.0,238.1 108.1,238.1 108.3,238.1 108.5,238.1 108.6,238.1 108.8,238.1 108.9,238.1 109.1,238.1 109.2,238.1 109.4,238.1 109.5,238.1 109.7,238.1 109.8,238.1 110.0,238.1 110.1,238.1 110.3,238.1 110.4,238.1 110.6,238.1 110.7,238.1 110.9,238.1 111.0,238.1 111.2,238.1 111.3,238.1 111.5,238.1 111.7,238.1 111.8,238.1 112.0,238.1 112.1,238.1 112.3,238.1 112.4,238.1 112.6,238.1 112.7,238.1 112.9,238.1 113.0,238.1 113.2,238.1 113.3,238.1 113.5,238.1 113.6,238.1 113.8,238.1 113.9,238.1 114.1,238.1 114.2,238.1 114.4,238.1 114.5,238.1 114.7,238.1 114.8,238.1 115.0,238.1 115.2,238.1 115.3,238.1 115.5,238.1 115.6,238.1 115.8,238.1 115.9,238.1 116.1,238.1 116.2,238.1 116.4,238.1 116.5,238.1 116.7,238.1 116.8,238.1 117.0,238.1 117.1,238.1 117.3,238.1 117.4,238.1 117.6,238.1 117.7,238.1 117.9,238.1 118.0,238.1 118.2,238.1 118.4,238.1 118.5,238.1 118.7,238.1 118.8,238.1 119.0,238.1 119.1,238.1 119.3,238.1 119.4,238.1 119.6,238.1 119.7,238.1 119.9,238.1 120.0,238.1 120.2,238.1 120.3,238.1 120.5,238.1 120.6,238.1 120.8,238.1 120.9,238.1 121.1,238.1 121.2,238.1 121.4,238.1 121.5,238.1 121.7,238.1 121.9,238.1 122.0,238.1 122.2,238.1 122.3,238.1 122.5,238.1 122.6,238.1 122.8,238.1 122.9,238.1 123.1,238.1 123.2,238.1 123.4,238.1 123.5,238.1 123.7,238.1 123.8,238.1 124.0,238.1 124.1,238.1 124.3,238.1 124.4,238.1 124.6,238.1 124.7,238.1 124.9,238.1 125.1,238.1 125.2,238.1 125.4,238.1 125.5,238.1 125.7,238.1 125.8,238.1 126.0,238.1 126.1,238.1 126.3,238.1 126.4,238.1 126.6,238.1 126.7,238.1 126.9,238.1 127.0,238.1 127.2,238.1 127.3,238.1 127.5,238.1 127.6,238.1 127.8,238.1 127.9,238.1 128.1,238.1 128.3,238.1 128.4,238.1 128.6,238.1 128.7,238.1 128.9,238.1 129.0,238.1 129.2,238.1 129.3,238.1 129.5,238.1 129.6,238.1 129.8,238.1 129.9,238.1 130.1,238.1 130.2,238.1 130.4,238.1 130.5,238.1 130.7,238.1 130.8,238.1 131.0,238.1 131.1,238.1 131.3,238.1 131.4,238.1 131.6,238.1 131.8,238.1 131.9,238.1 132.1,238.1 132.2,238.1 132.4,238.1 132.5,238.1 132.7,238.1 132.8,238.1 133.0,238.1 133.1,238.1 133.3,238.1 133.4,238.1 133.6,238.1 133.7,238.1 133.9,238.1 134.0,238.1 134.2,238.1 134.3,238.1 134.5,238.1 134.6,238.1 134.8,238.1 135.0,238.1 135.1,238.1 135.3,238.1 135.4,238.1 135.6,238.1 135.7,238.1 135.9,238.1 136.0,238.1 136.2,238.1 136.3,238.1 136.5,238.1 136.6,238.1 136.8,238.1 136.9,238.1 137.1,238.1 137.2,238.1 137.4,238.1 137.5,238.1 137.7,238.1 137.8,238.1 138.0,238.1 138.1,238.1 138.3,238.1 138.5,238.1 138.6,238.1 138.8,238.1 138.9,238.1 139.1,238.1 139.2,238.1 139.4,238.1 139.5,238.1 139.7,238.1 139.8,238.1 140.0,238.1 140.1,238.1 140.3,238.1 140.4,238.1 140.6,238.1 140.7,238.1 140.9,238.1 141.0,238.1 141.2,238.1 141.3,238.1 141.5,238.1 141.7,238.1 141.8,238.1 142.0,238.1 142.1,238.1 142.3,238.1 142.4,238.1 142.6,238.1 142.7,238.1 142.9,238.1 143.0,238.1 143.2,238.1 143.3,238.1 143.5,238.1 143.6,238.1 143.8,238.1 143.9,238.1 144.1,238.1 144.2,238.1 144.4,238.1 144.5,238.1 144.7,238.1 144.8,238.1 145.0,238.1 145.2,238.1 145.3,238.1 145.5,238.1 145.6,238.1 145.8,238.1 145.9,238.1 146.1,238.1 146.2,238.1 146.4,238.1 146.5,238.1 146.7,238.1 146.8,238.1 147.0,238.1 147.1,238.1 147.3,238.1 147.4,238.1 147.6,238.1 147.7,238.1 147.9,238.1 148.0,238.1 148.2,238.1 148.4,238.1 148.5,238.1 148.7,238.1 148.8,238.1 149.0,238.1 149.1,238.1 149.3,238.1 149.4,238.1 149.6,238.1 149.7,238.1 149.9,238.1 150.0,238.1 150.2,238.1 150.3,238.1 150.5,238.1 150.6,238.1 150.8,238.1 150.9,238.1 151.1,238.1 151.2,238.1 151.4,238.1 151.6,238.1 151.7,238.1 151.9,238.1 152.0,238.1 152.2,238.1 152.3,238.1 152.5,238.1 152.6,238.1 152.8,238.1 152.9,238.1 153.1,238.1 153.2,238.1 153.4,238.1 153.5,238.1 153.7,238.1 153.8,238.1 154.0,238.1 154.1,238.1 154.3,238.1 154.4,238.1 154.6,238.1 154.7,238.1 154.9,238.1 155.1,238.1 155.2,238.1 155.4,238.1 155.5,238.1 155.7,238.1 155.8,238.1 156.0,238.1 156.1,238.1 156.3,238.1 156.4,238.1 156.6,238.1 156.7,238.1 156.9,238.1 157.0,238.1 157.2,238.1 157.3,238.1 157.5,238.1 157.6,238.1 157.8,238.1 157.9,238.1 158.1,238.1 158.3,238.1 158.4,238.1 158.6,238.1 158.7,238.1 158.9,238.1 159.0,238.1 159.2,238.1 159.3,238.1 159.5,238.1 159.6,238.1 159.8,238.1 159.9,238.1 160.1,238.1 160.2,238.1 160.4,238.1 160.5,238.1 160.7,238.1 160.8,238.1 161.0,238.1 161.1,238.1 161.3,238.1 161.4,238.1 161.6,238.1 161.8,238.1 161.9,238.1 162.1,238.1 162.2,238.1 162.4,238.1 162.5,238.1 162.7,238.1 162.8,238.1 163.0,238.1 163.1,238.1 163.3,238.1 163.4,238.1 163.6,238.1 163.7,238.1 163.9,238.1 164.0,238.1 164.2,238.1 164.3,238.1 164.5,238.1 164.6,238.1 164.8,238.1 165.0,238.1 165.1,238.1 165.3,238.1 165.4,238.1 165.6,238.1 165.7,238.1 165.9,238.1 166.0,238.1 166.2,238.1 166.3,238.1 166.5,238.1 166.6,238.1 166.8,238.1 166.9,238.1 167.1,238.1 167.2,238.1 167.4,238.1 167.5,238.1 167.7,238.1 167.8,238.1 168.0,238.1 168.2,238.1 168.3,238.1 168.5,238.1 168.6,238.1 168.8,238.1 168.9,238.1 169.1,238.1 169.2,238.1 169.4,238.1 169.5,238.1 169.7,238.1 169.8,238.1 170.0,238.1 170.1,238.1 170.3,238.1 170.4,238.1 170.6,238.1 170.7,238.1 170.9,238.1 171.0,238.1 171.2,238.1 171.3,238.1 171.5,238.1 171.7,238.1 171.8,238.1 172.0,238.1 172.1,238.1 172.3,238.1 172.4,238.1 172.6,238.1 172.7,238.1 172.9,238.1 173.0,238.1 173.2,238.1 173.3,238.1 173.5,238.1 173.6,238.1 173.8,238.1 173.9,238.1 174.1,238.1 174.2,238.1 174.4,238.1 174.5,238.1 174.7,238.1 174.9,238.1 175.0,238.1 175.2,238.1 175.3,238.1 175.5,238.1 175.6,238.1 175.8,238.1 175.9,238.1 176.1,238.1 176.2,217.4 176.4,238.1 176.5,227.1 176.7,238.1 176.8,238.1 177.0,238.1 177.1,238.1 177.3,238.1 177.4,238.1 177.6,227.1 177.7,238.1 177.9,238.1 178.0,238.1 178.2,238.1 178.4,238.1 178.5,238.1 178.7,238.1 178.8,238.1 179.0,238.1 179.1,238.1 179.3,227.1 179.4,211.8 179.6,217.4 179.7,217.4 179.9,238.1 180.0,238.1 180.2,238.1 180.3,238.1 180.5,227.1 180.6,207.7 180.8,211.8 180.9,227.1 181.1,227.1 181.2,238.1 181.4,217.4 181.6,217.4 181.7,217.4 181.9,238.1 182.0,217.4 182.2,207.7 182.3,204.6 182.5,217.4 182.6,217.4 182.8,217.4 182.9,227.1 183.1,217.4 183.2,211.8 183.4,227.1 183.5,207.7 183.7,217.4 183.8,227.1 184.0,217.4 184.1,238.1 184.3,217.4 184.4,211.8 184.6,217.4 184.8,207.7 184.9,207.7 185.1,217.4 185.2,204.6 185.4,211.8 185.5,227.1 185.7,207.7 185.8,217.4 186.0,217.4 186.1,217.4 186.3,204.6 186.4,207.7 186.6,211.8 186.7,217.4 186.9,217.4 187.0,207.7 187.2,202.1 187.3,202.1 187.5,211.8 187.6,207.7 187.8,207.7 187.9,211.8 188.1,211.8 188.3,198.0 188.4,207.7 188.6,202.1 188.7,204.6 188.9,207.7 189.0,207.7 189.2,204.6 189.3,207.7 189.5,204.6 189.6,198.0 189.8,204.6 189.9,204.6 190.1,211.8 190.2,207.7 190.4,196.4 190.5,196.4 190.7,189.3 190.8,217.4 191.0,194.9 191.1,196.4 191.3,194.9 191.5,227.1 191.6,194.9 191.8,196.4 191.9,196.4 192.1,190.2 192.2,191.3 192.4,202.1 192.5,194.9 192.7,187.5 192.8,192.4 193.0,199.9 193.1,196.4 193.3,193.6 193.4,189.3 193.6,196.4 193.7,193.6 193.9,190.2 194.0,189.3 194.2,190.2 194.3,193.6 194.5,189.3 194.6,190.2 194.8,187.5 195.0,189.3 195.1,193.6 195.3,186.7 195.4,189.3 195.6,187.5 195.7,187.5 195.9,188.4 196.0,187.5 196.2,183.9 196.3,181.0 196.5,182.1 196.6,188.4 196.8,186.7 196.9,186.0 197.1,186.7 197.2,181.0 197.4,182.1 197.5,180.5 197.7,180.5 197.8,180.0 198.0,179.6 198.2,179.6 198.3,178.2 198.5,185.2 198.6,181.0 198.8,183.3 198.9,180.5 199.1,178.2 199.2,176.6 199.4,179.1 199.5,175.6 199.7,175.2 199.8,182.7 200.0,177.8 200.1,177.8 200.3,172.7 200.4,173.9 200.6,176.6 200.7,173.9 200.9,172.4 201.0,171.9 201.2,175.6 201.4,167.7 201.5,173.9 201.7,170.6 201.8,171.9 202.0,170.1 202.1,168.6 202.3,167.5 202.4,169.2 202.6,167.7 202.7,166.6 202.9,166.6 203.0,166.2 203.2,167.7 203.3,163.2 203.5,162.6 203.6,165.7 203.8,162.9 203.9,160.4 204.1,160.4 204.2,158.5 204.4,159.3 204.5,158.4 204.7,157.2 204.9,157.6 205.0,156.2 205.2,155.4 205.3,153.4 205.5,156.6 205.6,153.3 205.8,150.9 205.9,151.3 206.1,150.0 206.2,149.5 206.4,149.1 206.5,148.2 206.7,146.8 206.8,146.3 207.0,144.0 207.1,143.2 207.3,143.5 207.4,141.4 207.6,141.3 207.7,140.2 207.9,139.2 208.1,137.4 208.2,137.4 208.4,136.5 208.5,134.1 208.7,132.8 208.8,132.1 209.0,131.7 209.1,130.3 209.3,130.4 209.4,128.6 209.6,127.1 209.7,125.5 209.9,124.3 210.0,123.6 210.2,122.2 210.3,120.3 210.5,119.3 210.6,118.0 210.8,116.3 210.9,115.2 211.1,113.6 211.2,112.1 211.4,109.8 211.6,108.4 211.7,106.3 211.9,104.4 212.0,102.4 212.2,99.9 212.3,97.4 212.5,95.2 212.6,93.0 212.8,90.6 212.9,88.1 213.1,85.5 213.2,83.1 213.4,80.4 213.5,78.1 213.7,75.5 213.8,73.1 214.0,70.6 214.1,68.1 214.3,65.9 214.4,63.4 214.6,61.1 214.8,58.7 214.9,56.2 215.1,53.8 215.2,51.3 215.4,48.9 215.5,46.5 215.7,44.2 215.8,41.9 216.0,39.8 216.1,37.6 216.3,35.5 216.4,33.4 216.6,31.4 216.7,29.3 216.9,27.4 217.0,25.4 217.2,23.5 217.3,21.6 217.5,19.8 217.6,18.0 217.8,16.2 217.9,14.5 218.1,16.2 218.3,18.0 218.4,19.8 218.6,21.6 218.7,23.5 218.9,25.4 219.0,27.4 219.2,29.3 219.3,31.4 219.5,33.4 219.6,35.5 219.8,37.6 219.9,39.7 220.1,41.9 220.2,44.2 220.4,46.5 220.5,48.9 220.7,51.3 220.8,53.7 221.0,56.3 221.1,58.7 221.3,61.2 221.5,63.5 221.6,65.8 221.8,68.1 221.9,70.5 222.1,73.1 222.2,75.5 222.4,78.0 222.5,80.5 222.7,83.2 222.8,85.5 223.0,87.9 223.1,90.6 223.3,92.9 223.4,95.4 223.6,97.6 223.7,99.9 223.9,102.5 224.0,104.5 224.2,106.6 224.3,108.5 224.5,110.2 224.7,112.0 224.8,113.9 225.0,115.0 225.1,116.4 225.3,117.9 225.4,119.6 225.6,120.5 225.7,121.9 225.9,123.2 226.0,123.6 226.2,125.5 226.3,126.7 226.5,127.9 226.6,128.9 226.8,130.0 226.9,131.1 227.1,132.6 227.2,132.8 227.4,134.3 227.5,135.4 227.7,136.8 227.8,138.0 228.0,138.3 228.2,139.3 228.3,140.8 228.5,142.2 228.6,142.5 228.8,143.5 228.9,143.5 229.1,146.3 229.2,145.6 229.4,147.5 229.5,146.8 229.7,148.6 229.8,150.3 230.0,150.0 230.1,152.4 230.3,153.3 230.4,153.8 230.6,153.2 230.7,154.9 230.9,155.0 231.0,154.1 231.2,156.3 231.4,157.0 231.5,159.2 231.7,158.9 231.8,161.8 232.0,162.5 232.1,163.6 232.3,162.3 232.4,161.9 232.6,161.7 232.7,167.1 232.9,169.4 233.0,164.1 233.2,168.3 233.3,167.5 233.5,169.0 233.6,170.6 233.8,170.6 233.9,167.3 234.1,171.9 234.2,177.0 234.4,175.6 234.5,175.6 234.7,171.4 234.9,175.9 235.0,172.4 235.2,178.2 235.3,177.0 235.5,180.5 235.6,176.6 235.8,180.5 235.9,177.0 236.1,181.6 236.2,188.4 236.4,183.3 236.5,180.0 236.7,183.9 236.8,180.0 237.0,186.0 237.1,180.0 237.3,182.7 237.4,180.5 237.6,184.6 237.7,180.5 237.9,176.3 238.1,189.3 238.2,186.0 238.4,183.3 238.5,186.7 238.7,186.0 238.8,182.7 239.0,185.2 239.1,196.4 239.3,186.7 239.4,191.3 239.6,194.9 239.7,188.4 239.9,189.3 240.0,199.9 240.2,185.2 240.3,183.9 240.5,185.2 240.6,188.4 240.8,184.6 240.9,189.3 241.1,190.2 241.3,199.9 241.4,191.3 241.6,189.3 241.7,196.4 241.9,191.3 242.0,198.0 242.2,202.1 242.3,194.9 242.5,194.9 242.6,196.4 242.8,196.4 242.9,196.4 243.1,199.9 243.2,194.9 243.4,193.6 243.5,198.0 243.7,217.4 243.8,202.1 244.0,194.9 244.1,202.1 244.3,194.9 244.4,202.1 244.6,204.6 244.8,190.2 244.9,202.1 245.1,191.3 245.2,207.7 245.4,211.8 245.5,204.6 245.7,202.1 245.8,198.0 246.0,198.0 246.1,199.9 246.3,199.9 246.4,204.6 246.6,202.1 246.7,211.8 246.9,207.7 247.0,194.9 247.2,227.1 247.3,217.4 247.5,211.8 247.6,196.4 247.8,204.6 248.0,198.0 248.1,227.1 248.3,217.4 248.4,227.1 248.6,211.8 248.7,207.7 248.9,207.7 249.0,204.6 249.2,211.8 249.3,198.0 249.5,211.8 249.6,211.8 249.8,211.8 249.9,207.7 250.1,207.7 250.2,207.7 250.4,207.7 250.5,217.4 250.7,207.7 250.8,217.4 251.0,238.1 251.1,211.8 251.3,238.1 251.5,211.8 251.6,207.7 251.8,238.1 251.9,238.1 252.1,217.4 252.2,227.1 252.4,217.4 252.5,227.1 252.7,227.1 252.8,238.1 253.0,217.4 253.1,217.4 253.3,227.1 253.4,211.8 253.6,217.4 253.7,217.4 253.9,238.1 254.0,217.4 254.2,238.1 254.3,227.1 254.5,238.1 254.7,227.1 254.8,238.1 255.0,238.1 255.1,238.1 255.3,217.4 255.4,238.1 255.6,238.1 255.7,238.1 255.9,238.1 256.0,238.1 256.2,227.1 256.3,238.1 256.5,217.4 256.6,238.1 256.8,238.1 256.9,238.1 257.1,238.1 257.2,238.1 257.4,238.1 257.5,238.1 257.7,227.1 257.9,238.1 258.0,238.1 258.2,238.1 258.3,238.1 258.5,238.1 258.6,238.1 258.8,238.1 258.9,227.1 259.1,238.1 259.2,238.1 259.4,238.1 259.5,238.1 259.7,238.1 259.8,238.1 260.0,238.1 260.1,238.1 260.3,238.1 260.4,238.1 260.6,238.1 260.7,238.1 260.9,238.1 261.0,227.1 261.2,238.1 261.4,238.1 261.5,238.1 261.7,238.1 261.8,238.1 262.0,238.1 262.1,238.1 262.3,238.1 262.4,238.1 262.6,238.1 262.7,227.1 262.9,238.1 263.0,238.1 263.2,238.1 263.3,238.1 263.5,238.1 263.6,238.1 263.8,238.1 263.9,238.1 264.1,238.1 264.2,238.1 264.4,238.1 264.6,238.1 264.7,238.1 264.9,238.1 265.0,227.1 265.2,238.1 265.3,238.1 265.5,238.1 265.6,238.1 265.8,227.1 265.9,238.1 266.1,238.1 266.2,238.1 266.4,238.1 266.5,238.1 266.7,238.1 266.8,238.1 267.0,238.1 267.1,238.1 267.3,238.1 267.4,238.1 267.6,238.1 267.7,238.1 267.9,238.1 268.1,238.1 268.2,238.1 268.4,238.1 268.5,227.1 268.7,227.1 268.8,238.1 269.0,238.1 269.1,238.1 269.3,238.1 269.4,227.1 269.6,227.1 269.7,227.1 269.9,238.1 270.0,238.1 270.2,238.1 270.3,238.1 270.5,238.1 270.6,227.1 270.8,238.1 270.9,238.1 271.1,238.1 271.3,238.1 271.4,238.1 271.6,238.1 271.7,238.1 271.9,227.1 272.0,238.1 272.2,227.1 272.3,238.1 272.5,227.1 272.6,238.1 272.8,238.1 272.9,238.1 273.1,238.1 273.2,238.1 273.4,227.1 273.5,238.1 273.7,238.1 273.8,238.1 274.0,238.1 274.1,238.1 274.3,238.1 274.5,238.1 274.6,238.1 274.8,238.1 274.9,238.1 275.1,238.1 275.2,227.1 275.4,238.1 275.5,227.1 275.7,238.1 275.8,238.1 276.0,238.1 276.1,238.1 276.3,238.1 276.4,238.1 276.6,238.1 276.7,238.1 276.9,238.1 277.0,238.1 277.2,238.1 277.3,238.1 277.5,238.1 277.6,238.1 277.8,238.1 278.0,238.1 278.1,238.1 278.3,227.1 278.4,227.1 278.6,238.1 278.7,227.1 278.9,238.1 279.0,238.1 279.2,238.1 279.3,238.1 279.5,227.1 279.6,238.1 279.8,227.1 279.9,238.1 280.1,238.1 280.2,238.1 280.4,238.1 280.5,238.1 280.7,227.1 280.8,238.1 281.0,238.1 281.2,238.1 281.3,238.1 281.5,238.1 281.6,227.1 281.8,238.1 281.9,238.1 282.1,238.1 282.2,238.1 282.4,238.1 282.5,238.1 282.7,238.1 282.8,238.1 283.0,238.1 283.1,238.1 283.3,238.1 283.4,238.1 283.6,238.1 283.7,238.1 283.9,238.1 284.0,238.1 284.2,238.1 284.3,238.1 284.5,238.1 284.7,238.1 284.8,238.1 285.0,238.1 285.1,238.1 285.3,238.1 285.4,238.1 285.6,238.1 285.7,238.1 285.9,238.1 286.0,227.1 286.2,238.1 286.3,227.1 286.5,238.1 286.6,238.1 286.8,238.1 286.9,238.1 287.1,238.1 287.2,238.1 287.4,238.1 287.5,238.1 287.7,238.1 287.9,238.1 288.0,238.1 288.2,238.1 288.3,238.1 288.5,238.1 288.6,227.1 288.8,238.1 288.9,238.1 289.1,238.1 289.2,238.1 289.4,238.1 289.5,238.1 289.7,238.1 289.8,238.1 290.0,238.1 290.1,238.1 290.3,238.1 290.4,238.1 290.6,238.1 290.7,238.1 290.9,238.1 291.0,238.1 291.2,238.1 291.4,238.1 291.5,238.1 291.7,238.1 291.8,238.1 292.0,238.1 292.1,238.1 292.3,238.1 292.4,238.1 292.6,238.1 292.7,238.1 292.9,238.1 293.0,238.1 293.2,238.1 293.3,238.1 293.5,238.1 293.6,238.1 293.8,238.1 293.9,238.1 294.1,238.1 294.2,238.1 294.4,238.1 294.6,238.1 294.7,238.1 294.9,238.1 295.0,238.1 295.2,238.1 295.3,238.1 295.5,238.1 295.6,238.1 295.8,238.1 295.9,238.1 296.1,238.1 296.2,238.1 296.4,238.1 296.5,238.1 296.7,238.1 296.8,238.1 297.0,238.1 297.1,238.1 297.3,238.1 297.4,238.1 297.6,238.1 297.8,238.1 297.9,238.1 298.1,238.1 298.2,238.1 298.4,238.1 298.5,238.1 298.7,238.1 298.8,238.1 299.0,238.1 299.1,238.1 299.3,238.1 299.4,238.1 299.6,238.1 299.7,238.1 299.9,238.1 300.0,238.1 300.2,238.1 300.3,238.1 300.5,238.1 300.6,238.1 300.8,238.1 300.9,238.1 301.1,238.1 301.3,238.1 301.4,238.1 301.6,238.1 301.7,238.1 301.9,238.1 302.0,238.1 302.2,238.1 302.3,238.1 302.5,238.1 302.6,238.1 302.8,238.1 302.9,238.1 303.1,238.1 303.2,238.1 303.4,238.1 303.5,238.1 303.7,238.1 303.8,238.1 304.0,238.1 304.1,238.1 304.3,238.1 304.5,238.1 304.6,238.1 304.8,238.1 304.9,238.1 305.1,238.1 305.2,238.1 305.4,238.1 305.5,238.1 305.7,238.1 305.8,238.1 306.0,238.1 306.1,238.1 306.3,238.1 306.4,238.1 306.6,238.1 306.7,238.1 306.9,238.1 307.0,238.1 307.2,238.1 307.3,238.1 307.5,238.1 307.6,238.1 307.8,238.1 308.0,238.1 308.1,238.1 308.3,238.1 308.4,238.1 308.6,238.1 308.7,238.1 308.9,238.1 309.0,238.1 309.2,238.1 309.3,238.1 309.5,238.1 309.6,238.1 309.8,238.1 309.9,238.1 310.1,238.1 310.2,238.1 310.4,238.1 310.5,238.1 310.7,238.1 310.8,238.1 311.0,238.1 311.2,238.1 311.3,238.1 311.5,238.1 311.6,238.1 311.8,238.1 311.9,238.1 312.1,238.1 312.2,238.1 312.4,238.1 312.5,238.1 312.7,238.1 312.8,238.1 313.0,238.1 313.1,238.1 313.3,238.1 313.4,238.1 313.6,238.1 313.7,238.1 313.9,238.1 314.0,238.1 314.2,238.1 314.4,238.1 314.5,238.1 314.7,238.1 314.8,238.1 315.0,238.1 315.1,238.1 315.3,238.1 315.4,238.1 315.6,238.1 315.7,238.1 315.9,238.1 316.0,238.1 316.2,238.1 316.3,238.1 316.5,238.1 316.6,238.1 316.8,238.1 316.9,238.1 317.1,238.1 317.2,238.1 317.4,238.1 317.5,238.1 317.7,238.1 317.9,238.1 318.0,238.1 318.2,238.1 318.3,238.1 318.5,238.1 318.6,238.1 318.8,238.1 318.9,238.1 319.1,238.1 319.2,238.1 319.4,238.1 319.5,238.1 319.7,238.1 319.8,238.1 320.0,238.1 320.1,238.1 320.3,238.1 320.4,238.1 320.6,238.1 320.7,238.1 320.9,238.1 321.1,238.1 321.2,238.1 321.4,238.1 321.5,238.1 321.7,238.1 321.8,238.1 322.0,238.1 322.1,238.1 322.3,238.1 322.4,238.1 322.6,238.1 322.7,238.1 322.9,238.1 323.0,238.1 323.2,238.1 323.3,238.1 323.5,238.1 323.6,238.1 323.8,238.1 323.9,238.1 324.1,238.1 324.2,238.1 324.4,238.1 324.6,238.1 324.7,238.1 324.9,238.1 325.0,238.1 325.2,238.1 325.3,238.1 325.5,238.1 325.6,238.1 325.8,238.1 325.9,238.1 326.1,238.1 326.2,238.1 326.4,238.1 326.5,238.1 326.7,238.1 326.8,238.1 327.0,238.1 327.1,238.1 327.3,238.1 327.4,238.1 327.6,238.1 327.8,238.1 327.9,238.1 328.1,238.1 328.2,238.1 328.4,238.1 328.5,238.1 328.7,238.1 328.8,238.1 329.0,238.1 329.1,238.1 329.3,238.1 329.4,238.1 329.6,238.1 329.7,238.1 329.9,238.1 330.0,238.1 330.2,238.1 330.3,238.1 330.5,238.1 330.6,238.1 330.8,238.1 331.0,238.1 331.1,238.1 331.3,238.1 331.4,238.1 331.6,238.1 331.7,238.1 331.9,238.1 332.0,238.1 332.2,238.1 332.3,238.1 332.5,238.1 332.6,238.1 332.8,238.1 332.9,238.1 333.1,238.1 333.2,238.1 333.4,238.1 333.5,238.1 333.7,238.1 333.8,238.1 334.0,238.1 334.1,238.1 334.3,238.1 334.5,238.1 334.6,238.1 334.8,238.1 334.9,238.1 335.1,238.1 335.2,238.1 335.4,238.1 335.5,238.1 335.7,238.1 335.8,238.1 336.0,238.1 336.1,238.1 336.3,238.1 336.4,238.1 336.6,238.1 336.7,238.1 336.9,238.1 337.0,238.1 337.2,238.1 337.3,238.1 337.5,238.1 337.7,238.1 337.8,238.1 338.0,238.1 338.1,238.1 338.3,238.1 338.4,238.1 338.6,238.1 338.7,238.1 338.9,238.1 339.0,238.1 339.2,238.1 339.3,238.1 339.5,238.1 339.6,238.1 339.8,238.1 339.9,238.1 340.1,238.1 340.2,238.1 340.4,238.1 340.5,238.1 340.7,238.1 340.8,238.1 341.0,238.1 341.2,238.1 341.3,238.1 341.5,238.1 341.6,238.1 341.8,238.1 341.9,238.1 342.1,238.1 342.2,238.1 342.4,238.1 342.5,238.1 342.7,238.1 342.8,238.1 343.0,238.1 343.1,238.1 343.3,238.1 343.4,238.1 343.6,238.1 343.7,238.1 343.9,238.1 344.0,238.1 344.2,238.1 344.4,238.1 344.5,238.1 344.7,238.1 344.8,238.1 345.0,238.1 345.1,238.1 345.3,238.1 345.4,238.1 345.6,238.1 345.7,238.1 345.9,238.1 346.0,238.1 346.2,238.1 346.3,238.1 346.5,238.1 346.6,238.1 346.8,238.1 346.9,238.1 347.1,238.1 347.2,238.1 347.4,238.1 347.6,238.1 347.7,238.1 347.9,238.1 348.0,238.1 348.2,238.1 348.3,238.1 348.5,238.1 348.6,238.1 348.8,238.1 348.9,238.1 349.1,238.1 349.2,238.1 349.4,238.1 349.5,238.1 349.7,238.1 349.8,238.1 350.0,238.1 350.1,238.1 350.3,238.1 350.4,238.1 350.6,238.1 350.7,238.1 350.9,238.1 351.1,238.1 351.2,238.1 351.4,238.1 351.5,238.1 351.7,238.1 351.8,238.1 352.0,238.1 352.1,238.1 352.3,238.1 352.4,238.1 352.6,238.1 352.7,238.1 352.9,238.1 353.0,238.1 353.2,238.1 353.3,238.1 353.5,238.1 353.6,238.1 353.8,238.1 353.9,238.1 354.1,238.1 354.3,238.1 354.4,238.1 354.6,238.1 354.7,238.1 354.9,238.1 355.0,238.1 355.2,238.1 355.3,238.1 355.5,238.1 355.6,238.1 355.8,238.1 355.9,238.1 356.1,238.1 356.2,238.1 356.4,238.1 356.5,238.1 356.7,238.1 356.8,238.1 357.0,238.1 357.1,238.1 357.3,238.1 357.4,238.1 357.6,238.1 357.8,238.1 357.9,238.1 358.1,238.1 358.2,238.1 358.4,238.1 358.5,238.1 358.7,238.1 358.8,238.1 359.0,238.1 359.1,238.1 359.3,238.1 359.4,238.1 359.6,238.1 359.7,238.1 359.9,238.1 360.0,238.1 360.2,238.1 360.3,238.1 360.5,238.1 360.6,238.1 360.8,238.1 361.0,238.1 361.1,238.1 361.3,238.1 361.4,238.1 361.6,238.1 361.7,238.1 361.9,238.1 362.0,238.1 362.2,238.1 362.3,238.1 362.5,238.1 362.6,238.1 362.8,238.1 362.9,238.1 363.1,238.1 363.2,238.1 363.4,238.1 363.5,238.1 363.7,238.1 363.8,238.1 364.0,238.1 364.1,238.1 364.3,238.1 364.5,238.1 364.6,238.1 364.8,238.1 364.9,238.1 365.1,238.1 365.2,238.1 365.4,238.1 365.5,238.1 365.7,238.1 365.8,238.1 366.0,238.1 366.1,238.1 366.3,238.1 366.4,238.1 366.6,238.1 366.7,238.1 366.9,238.1 367.0,238.1 367.2,238.1 367.3,238.1 367.5,238.1 367.7,238.1 367.8,238.1 368.0,238.1 368.1,238.1 368.3,238.1 368.4,238.1 368.6,238.1 368.7,238.1 368.9,238.1 369.0,238.1 369.2,238.1 369.3,238.1 369.5,238.1 369.6,238.1 369.8,238.1 369.9,238.1 370.1,238.1 370.2,238.1 370.4,238.1 370.5,238.1 370.7,238.1 370.9,238.1 371.0,238.1 371.2,238.1 371.3,238.1 371.5,238.1 371.6,238.1 371.8,238.1 371.9,238.1 372.1,238.1 372.2,238.1 372.4,238.1 372.5,238.1 372.7,238.1 372.8,238.1 373.0,238.1 373.1,238.1 373.3,238.1 373.4,238.1 373.6,238.1 373.7,238.1 373.9,238.1 374.0,238.1 374.2,238.1 374.4,238.1 374.5,238.1 374.7,238.1 374.8,238.1 375.0,238.1 375.1,238.1 375.3,238.1 375.4,238.1 375.6,238.1 375.7,238.1 375.9,238.1 376.0,238.1 376.2,238.1 376.3,238.1 376.5,238.1 376.6,238.1 376.8,238.1 376.9,238.1 377.1,238.1 377.2,238.1 377.4,238.1 377.6,238.1 377.7,238.1 377.9,238.1 378.0,238.1 378.2,238.1 378.3,238.1 378.5,238.1 378.6,238.1 378.8,238.1 378.9,238.1 379.1,238.1 379.2,238.1 379.4,238.1 379.5,238.1 379.7,238.1 379.8,238.1 380.0,238.1 380.1,238.1 380.3,238.1 380.4,238.1 380.6,238.1 380.7,238.1 380.9,238.1 381.1,238.1 381.2,238.1 381.4,238.1 381.5,238.1 381.7,238.1 381.8,238.1 382.0,238.1 382.1,238.1 382.3,238.1 382.4,238.1 382.6,238.1 382.7,238.1 382.9,238.1 383.0,238.1 383.2,238.1 383.3,238.1 383.5,238.1 383.6,238.1 383.8,238.1 383.9,238.1 384.1,238.1 384.3,238.1 384.4,238.1 384.6,238.1 384.7,238.1 384.9,238.1 385.0,238.1 385.2,238.1 385.3,238.1 385.5,238.1 385.6,238.1 385.8,238.1 385.9,238.1 386.1,238.1 386.2,238.1 386.4,238.1 386.5,238.1 386.7,238.1 386.8,238.1 387.0,238.1 387.1,238.1 387.3,238.1 387.5,238.1 387.6,238.1 387.8,238.1 387.9,238.1 388.1,238.1 388.2,238.1 388.4,238.1 388.5,238.1 388.7,238.1 388.8,238.1 389.0,238.1 389.1,238.1 389.3,238.1 389.4,238.1 389.6,238.1 389.7,238.1 389.9,238.1 390.0,238.1 390.2,238.1 390.3,238.1 390.5,238.1 390.6,238.1 390.8,238.1 391.0,238.1 391.1,238.1 391.3,238.1 391.4,238.1 391.6,238.1 391.7,238.1 391.9,238.1 392.0,238.1 392.2,238.1 392.3,238.1 392.5,238.1 392.6,238.1 392.8,238.1 392.9,238.1 393.1,238.1 393.2,238.1 393.4,238.1 393.5,238.1 393.7,238.1 393.8,238.1 394.0,238.1 394.2,238.1 394.3,238.1 394.5,238.1 394.6,238.1 394.8,238.1 394.9,238.1 395.1,238.1 395.2,238.1 395.4,238.1 395.5,238.1 395.7,238.1 395.8,238.1 396.0,238.1 396.1,238.1 396.3,238.1 396.4,238.1 396.6,238.1 396.7,238.1 396.9,238.1 397.0,238.1 397.2,238.1 397.3,238.1 397.5,238.1 397.7,238.1 397.8,238.1 398.0,238.1 398.1,238.1 398.3,238.1 398.4,238.1 398.6,238.1 398.7,238.1 398.9,238.1 399.0,238.1 399.2,238.1 399.3,238.1 399.5,238.1 399.6,238.1 399.8,238.1 399.9,238.1 400.1,238.1 400.2,238.1 400.4,238.1 400.5,238.1 400.7,238.1"/>
</g>
<rect x="35.2" y="6.8" width="365.5" height="225.29999999999998" fill="none" stroke="#000" stroke-width="1.5"/>
<g font-size="13.6" filter="url(#g)" stroke="#fff" stroke-width="0.14">
<text x="35.0" y="250.8" text-anchor="middle">-300</text>
<text x="95.8" y="250.8" text-anchor="middle">-200</text>
<text x="156.7" y="250.8" text-anchor="middle">-100</text>
<text x="220.2" y="250.8" text-anchor="middle">0</text>
<text x="281.5" y="250.8" text-anchor="middle">100</text>
<text x="342.4" y="250.8" text-anchor="middle">200</text>
<text x="403.3" y="250.8" text-anchor="middle">300</text>
<text x="0.8" y="13.3">10</text>
<text x="15.1" y="8.3" font-size="9.6" textLength="13.6" lengthAdjust="spacingAndGlyphs">−1</text>
<text x="0.8" y="45.5">10</text>
<text x="15.1" y="40.5" font-size="9.6" textLength="13.6" lengthAdjust="spacingAndGlyphs">−2</text>
<text x="0.8" y="77.7">10</text>
<text x="15.1" y="72.7" font-size="9.6" textLength="13.6" lengthAdjust="spacingAndGlyphs">−3</text>
<text x="0.8" y="109.9">10</text>
<text x="15.1" y="104.9" font-size="9.6" textLength="13.6" lengthAdjust="spacingAndGlyphs">−4</text>
<text x="0.8" y="142.0">10</text>
<text x="15.1" y="137.0" font-size="9.6" textLength="13.6" lengthAdjust="spacingAndGlyphs">−5</text>
<text x="0.8" y="174.2">10</text>
<text x="15.1" y="169.2" font-size="9.6" textLength="13.6" lengthAdjust="spacingAndGlyphs">−6</text>
<text x="0.8" y="206.4">10</text>
<text x="15.1" y="201.4" font-size="9.6" textLength="13.6" lengthAdjust="spacingAndGlyphs">−7</text>
<text x="0.8" y="238.6">10</text>
<text x="15.1" y="233.6" font-size="9.6" textLength="13.6" lengthAdjust="spacingAndGlyphs">−8</text>
<text x="209.7" y="268.5" font-style="italic" font-size="14.5">a</text>
<text x="217.4" y="272.0" font-style="italic" font-size="10">l</text>
<path stroke="none" fill="#000" fill-rule="evenodd" d="M218.0 262.9L221.75 256.2L225.5 262.9ZM219.05 262.2L223.95 262.2L221.35 257.6Z"/>
</g>
</svg>
</body></html>
